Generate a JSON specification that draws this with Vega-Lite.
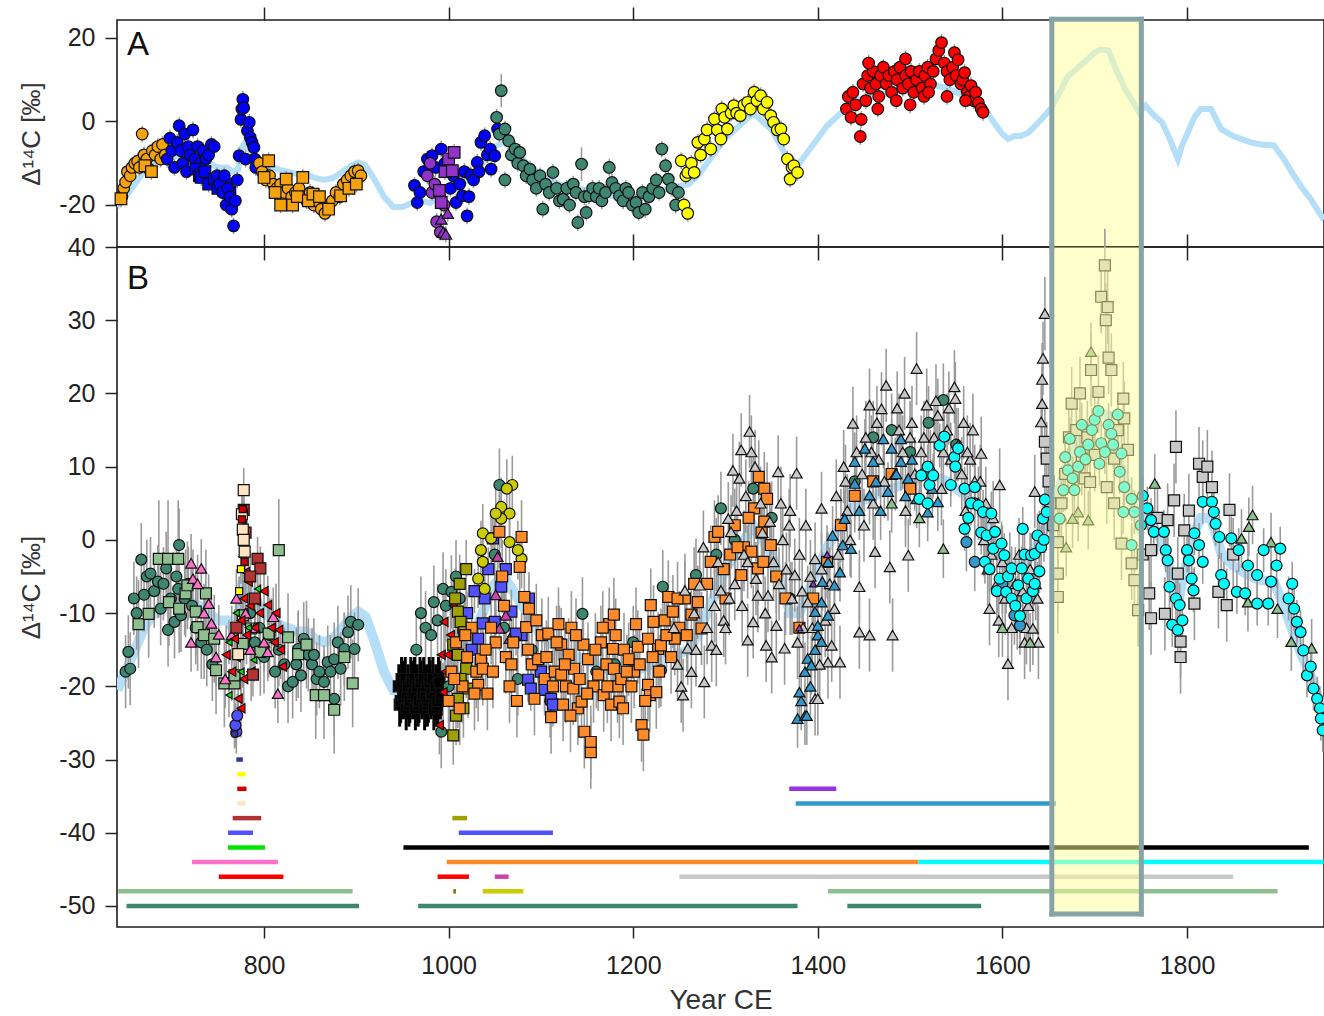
{
"$schema":"https://vega.github.io/schema/vega-lite/v6.json",
"padding":{"left":17,"top":5,"right":0,"bottom":0},
"spacing":0,
"bounds":"flush",
"config":{"view":{"stroke":"#1e1e1e","strokeWidth":1.6},"font":"Liberation Sans","axis":{"labelFont":"Liberation Sans","titleFont":"Liberation Sans","titleFontWeight":"normal","tickColor":"#222","labelColor":"#222","titleColor":"#333","domain":false,"grid":false,"tickWidth":1.5}},
"datasets":{
"ic":[{"x":641,"y":-20.5},{"x":650,"y":-18},{"x":660,"y":-15},{"x":670,"y":-12},{"x":680,"y":-10},{"x":690,"y":-9},{"x":700,"y":-8.5},{"x":710,"y":-8},{"x":720,"y":-8.5},{"x":730,"y":-9},{"x":740,"y":-10},{"x":750,"y":-11},{"x":760,"y":-11},{"x":766,"y":-12},{"x":772,"y":-11.5},{"x":775,"y":-6.5},{"x":778,"y":-5.5},{"x":785,"y":-7},{"x":795,"y":-9},{"x":805,"y":-10.5},{"x":815,"y":-11.5},{"x":825,"y":-12},{"x":835,"y":-12.5},{"x":845,"y":-12.5},{"x":855,"y":-13.5},{"x":865,"y":-14},{"x":875,"y":-13.5},{"x":885,"y":-12},{"x":895,"y":-10.5},{"x":902,"y":-9.8},{"x":910,"y":-10.5},{"x":920,"y":-14},{"x":930,"y":-18},{"x":940,"y":-20.5},{"x":950,"y":-20.5},{"x":960,"y":-19.5},{"x":970,"y":-19},{"x":980,"y":-19.5},{"x":990,"y":-18},{"x":1000,"y":-17},{"x":1010,"y":-16},{"x":1020,"y":-14},{"x":1030,"y":-12},{"x":1040,"y":-9},{"x":1050,"y":-6},{"x":1060,"y":-5},{"x":1070,"y":-7},{"x":1080,"y":-9},{"x":1090,"y":-11},{"x":1100,"y":-13},{"x":1120,"y":-15},{"x":1140,"y":-16},{"x":1160,"y":-17},{"x":1180,"y":-18},{"x":1200,"y":-18},{"x":1220,"y":-17},{"x":1240,"y":-16},{"x":1260,"y":-15},{"x":1270,"y":-13},{"x":1280,"y":-10},{"x":1290,"y":-7},{"x":1300,"y":-4},{"x":1310,"y":-2},{"x":1320,"y":0},{"x":1330,"y":2},{"x":1340,"y":0},{"x":1350,"y":-2},{"x":1360,"y":-6},{"x":1370,"y":-10},{"x":1380,"y":-10},{"x":1390,"y":-7},{"x":1400,"y":-4},{"x":1410,"y":-1},{"x":1420,"y":1},{"x":1430,"y":3},{"x":1440,"y":5},{"x":1460,"y":6},{"x":1480,"y":7},{"x":1500,"y":8},{"x":1520,"y":9},{"x":1540,"y":8},{"x":1560,"y":6},{"x":1580,"y":3.5},{"x":1590,"y":0},{"x":1600,"y":-3},{"x":1606,"y":-4.2},{"x":1613,"y":-3.5},{"x":1620,"y":-3.5},{"x":1628,"y":-2.7},{"x":1640,"y":0},{"x":1653,"y":3.2},{"x":1662,"y":7},{"x":1671,"y":10.9},{"x":1680,"y":12.5},{"x":1690,"y":14.5},{"x":1700,"y":16.5},{"x":1706,"y":17.3},{"x":1715,"y":17},{"x":1722,"y":13},{"x":1733,"y":7.7},{"x":1742,"y":4.5},{"x":1748,"y":2.2},{"x":1755,"y":3.8},{"x":1764,"y":1.5},{"x":1773,"y":-0.2},{"x":1781,"y":-4},{"x":1790,"y":-9},{"x":1795,"y":-5.5},{"x":1801,"y":-2.6},{"x":1808,"y":1},{"x":1815,"y":3},{"x":1826,"y":3},{"x":1837,"y":-1.8},{"x":1850,"y":-3.5},{"x":1869,"y":-5},{"x":1880,"y":-5.5},{"x":1894,"y":-5.7},{"x":1905,"y":-9},{"x":1916,"y":-13},{"x":1925,"y":-16},{"x":1934,"y":-18.6},{"x":1948,"y":-23.5}],
"a":[
{"s":"ao","m":"c","x":646,"y":-18,"e":2},{"s":"ao","m":"c","x":648,"y":-16,"e":2},{"s":"ao","m":"c","x":650,"y":-14.5,"e":2},{"s":"ao","m":"c","x":652,"y":-12,"e":2},{"s":"ao","m":"c","x":655,"y":-13,"e":2},{"s":"ao","m":"c","x":657,"y":-11,"e":2},{"s":"ao","m":"c","x":660,"y":-10,"e":2},{"s":"ao","m":"c","x":663,"y":-9.5,"e":2},{"s":"ao","m":"c","x":665,"y":-11,"e":2},{"s":"ao","m":"c","x":668,"y":-3,"e":2},{"s":"ao","m":"c","x":670,"y":-8,"e":2},{"s":"ao","m":"c","x":673,"y":-9,"e":2},{"s":"ao","m":"c","x":676,"y":-11.5,"e":2},{"s":"ao","m":"c","x":679,"y":-7,"e":2},{"s":"ao","m":"c","x":682,"y":-8,"e":2},{"s":"ao","m":"c","x":685,"y":-6,"e":2},{"s":"ao","m":"c","x":688,"y":-9,"e":2},{"s":"ao","m":"c","x":690,"y":-5.5,"e":2},{"s":"ao","m":"c","x":693,"y":-8,"e":2},
{"s":"ao","m":"s","x":645,"y":-18.5,"e":2},{"s":"ao","m":"s","x":671,"y":-10.6,"e":2},{"s":"ao","m":"s","x":678,"y":-12,"e":2},
{"s":"ab","m":"c","x":695,"y":-9,"e":2},{"s":"ab","m":"c","x":698,"y":-4,"e":2},{"s":"ab","m":"c","x":700,"y":-7,"e":2},{"s":"ab","m":"c","x":703,"y":-11,"e":2},{"s":"ab","m":"c","x":706,"y":-5,"e":2},{"s":"ab","m":"c","x":708,"y":-1,"e":2},{"s":"ab","m":"c","x":710,"y":-7,"e":2},{"s":"ab","m":"c","x":712,"y":-10,"e":2},{"s":"ab","m":"c","x":714,"y":-3,"e":2},{"s":"ab","m":"c","x":716,"y":-12,"e":2},{"s":"ab","m":"c","x":718,"y":-6,"e":2},{"s":"ab","m":"c","x":720,"y":-8,"e":2},{"s":"ab","m":"c","x":723,"y":-2,"e":2},{"s":"ab","m":"c","x":725,"y":-9,"e":2},{"s":"ab","m":"c","x":728,"y":-6,"e":2},{"s":"ab","m":"c","x":731,"y":-10,"e":2},{"s":"ab","m":"c","x":734,"y":-7,"e":2},{"s":"ab","m":"c","x":737,"y":-9,"e":2},{"s":"ab","m":"c","x":740,"y":-8,"e":2},{"s":"ab","m":"c","x":743,"y":-5.5,"e":2},{"s":"ab","m":"c","x":746,"y":-6,"e":2},
{"s":"ab","m":"s","x":726,"y":-11.4,"e":2},{"s":"ab","m":"s","x":730,"y":-13,"e":2},{"s":"ab","m":"s","x":732,"y":-13.4,"e":2},{"s":"ab","m":"s","x":736,"y":-12,"e":2},{"s":"ab","m":"s","x":740,"y":-15,"e":2},{"s":"ab","m":"s","x":746,"y":-13.8,"e":2},{"s":"ab","m":"s","x":750,"y":-16,"e":2},{"s":"ab","m":"s","x":755,"y":-14,"e":2},{"s":"ab","m":"s","x":759,"y":-15,"e":2},{"s":"ab","m":"s","x":763,"y":-17,"e":2},
{"s":"ab","m":"c","x":749,"y":-13,"e":2},{"s":"ab","m":"c","x":752,"y":-15,"e":2},{"s":"ab","m":"c","x":755,"y":-17,"e":2},{"s":"ab","m":"c","x":757,"y":-13,"e":2},{"s":"ab","m":"c","x":759,"y":-20,"e":2},{"s":"ab","m":"c","x":761,"y":-16,"e":2},{"s":"ab","m":"c","x":763,"y":-18,"e":2},{"s":"ab","m":"c","x":765,"y":-21,"e":2},{"s":"ab","m":"c","x":767,"y":-25,"e":2},{"s":"ab","m":"c","x":769,"y":-19,"e":2},{"s":"ab","m":"c","x":771,"y":-14,"e":2},{"s":"ab","m":"c","x":773,"y":-8.2,"e":2},{"s":"ab","m":"c","x":775,"y":0.5,"e":2},{"s":"ab","m":"c","x":776,"y":3,"e":2},{"s":"ab","m":"c","x":777,"y":5.3,"e":2},{"s":"ab","m":"c","x":778,"y":3.3,"e":2},{"s":"ab","m":"c","x":780,"y":-9,"e":2},{"s":"ab","m":"c","x":782,"y":-2.2,"e":2},{"s":"ab","m":"c","x":784,"y":-0.2,"e":2},{"s":"ab","m":"c","x":785,"y":-3.8,"e":2},{"s":"ab","m":"c","x":787,"y":-5,"e":2},{"s":"ab","m":"c","x":789,"y":-6.2,"e":2},{"s":"ab","m":"c","x":790,"y":-9,"e":2},{"s":"ab","m":"c","x":791,"y":-11,"e":2},
{"s":"ao","m":"c","x":795,"y":-10,"e":2},{"s":"ao","m":"c","x":798,"y":-12,"e":2},{"s":"ao","m":"c","x":802,"y":-14,"e":2},{"s":"ao","m":"c","x":806,"y":-13,"e":2},{"s":"ao","m":"c","x":810,"y":-15,"e":2},{"s":"ao","m":"c","x":814,"y":-16,"e":2},{"s":"ao","m":"c","x":818,"y":-15,"e":2},{"s":"ao","m":"c","x":822,"y":-17,"e":2},{"s":"ao","m":"c","x":826,"y":-16,"e":2},{"s":"ao","m":"c","x":830,"y":-18,"e":2},{"s":"ao","m":"c","x":834,"y":-17,"e":2},{"s":"ao","m":"c","x":838,"y":-16,"e":2},{"s":"ao","m":"c","x":842,"y":-18,"e":2},{"s":"ao","m":"c","x":846,"y":-19,"e":2},{"s":"ao","m":"c","x":850,"y":-17,"e":2},{"s":"ao","m":"c","x":854,"y":-20,"e":2},{"s":"ao","m":"c","x":858,"y":-19,"e":2},{"s":"ao","m":"c","x":862,"y":-21,"e":2},{"s":"ao","m":"c","x":866,"y":-22,"e":2},{"s":"ao","m":"c","x":870,"y":-20,"e":2},{"s":"ao","m":"c","x":874,"y":-19,"e":2},{"s":"ao","m":"c","x":878,"y":-17,"e":2},{"s":"ao","m":"c","x":882,"y":-18,"e":2},{"s":"ao","m":"c","x":886,"y":-15,"e":2},{"s":"ao","m":"c","x":890,"y":-14,"e":2},{"s":"ao","m":"c","x":894,"y":-13,"e":2},{"s":"ao","m":"c","x":898,"y":-12,"e":2},{"s":"ao","m":"c","x":902,"y":-11.8,"e":2},{"s":"ao","m":"c","x":905,"y":-13,"e":2},
{"s":"ao","m":"s","x":800,"y":-13.4,"e":2},{"s":"ao","m":"s","x":805,"y":-9.4,"e":2},{"s":"ao","m":"s","x":812,"y":-17,"e":2},{"s":"ao","m":"s","x":818,"y":-20,"e":2},{"s":"ao","m":"s","x":824,"y":-13.8,"e":2},{"s":"ao","m":"s","x":831,"y":-20,"e":2},{"s":"ao","m":"s","x":836,"y":-18,"e":2},{"s":"ao","m":"s","x":842,"y":-13.4,"e":2},{"s":"ao","m":"s","x":848,"y":-19,"e":2},{"s":"ao","m":"s","x":853,"y":-17.4,"e":2},{"s":"ao","m":"s","x":860,"y":-18,"e":2},{"s":"ao","m":"s","x":870,"y":-21,"e":2},{"s":"ao","m":"s","x":883,"y":-17.8,"e":2},{"s":"ao","m":"s","x":892,"y":-16,"e":2},{"s":"ao","m":"s","x":900,"y":-15,"e":2},
{"s":"ab","m":"c","x":963,"y":-15.3,"e":2},{"s":"ab","m":"c","x":966,"y":-19.4,"e":2},{"s":"ab","m":"c","x":969,"y":-17,"e":2},{"s":"ab","m":"c","x":973,"y":-12,"e":2},{"s":"ab","m":"c","x":977,"y":-9,"e":2},{"s":"ab","m":"c","x":982,"y":-8.2,"e":2},{"s":"ab","m":"c","x":986,"y":-11,"e":2},{"s":"ab","m":"c","x":992,"y":-6.6,"e":2},{"s":"ab","m":"c","x":996,"y":-10,"e":2},{"s":"ab","m":"c","x":1002,"y":-16,"e":2},{"s":"ab","m":"c","x":1005,"y":-13,"e":2},{"s":"ab","m":"c","x":1008,"y":-19.4,"e":2},{"s":"ab","m":"c","x":1012,"y":-15,"e":2},{"s":"ab","m":"c","x":1015,"y":-17.8,"e":2},{"s":"ab","m":"c","x":1017,"y":-12,"e":2},{"s":"ab","m":"c","x":1020,"y":-22.6,"e":2},{"s":"ab","m":"c","x":1022,"y":-18,"e":2},{"s":"ab","m":"c","x":1024,"y":-12.8,"e":2},{"s":"ab","m":"c","x":1027,"y":-14,"e":2},{"s":"ab","m":"c","x":1031,"y":-9.8,"e":2},{"s":"ab","m":"c","x":1033,"y":-12,"e":2},{"s":"ab","m":"c","x":1035,"y":-5,"e":2},{"s":"ab","m":"c","x":1039,"y":-3.4,"e":2},{"s":"ab","m":"c","x":1042,"y":-8,"e":2},{"s":"ab","m":"c","x":1045,"y":-6.6,"e":2},{"s":"ab","m":"c","x":1046,"y":-11.4,"e":2},{"s":"ab","m":"c","x":1050,"y":-8.2,"e":2},{"s":"ab","m":"c","x":1053,"y":-1.8,"e":2},
{"s":"ap","m":"c","x":977,"y":-13,"e":2},{"s":"ap","m":"c","x":980,"y":-10,"e":2},{"s":"ap","m":"c","x":982,"y":-17,"e":2},{"s":"ap","m":"c","x":985,"y":-15,"e":2},{"s":"ap","m":"c","x":987,"y":-24,"e":2},{"s":"ap","m":"c","x":991,"y":-26.5,"e":2},{"s":"ap","m":"c","x":995,"y":-20,"e":2},{"s":"ap","m":"s","x":990,"y":-16.5,"e":2},{"s":"ap","m":"s","x":992,"y":-19.4,"e":2},{"s":"ap","m":"s","x":996,"y":-12,"e":2},{"s":"ap","m":"s","x":1000,"y":-9,"e":2},{"s":"ap","m":"s","x":1004,"y":-11.8,"e":2},{"s":"ap","m":"s","x":1006,"y":-7.4,"e":2},{"s":"ap","m":"t","x":992,"y":-23.4,"e":2},{"s":"ap","m":"t","x":994,"y":-26.5,"e":2},{"s":"ap","m":"t","x":997,"y":-27,"e":2},{"s":"ap","m":"t","x":999,"y":-22,"e":2},
{"s":"at","m":"c","x":1052,"y":1,"e":2},{"s":"at","m":"c","x":1057,"y":7.4,"e":4},{"s":"at","m":"c","x":1055,"y":-3,"e":2},{"s":"at","m":"c","x":1061,"y":-1.8,"e":2},{"s":"at","m":"c","x":1061,"y":-14,"e":2},{"s":"at","m":"c","x":1065,"y":-4.6,"e":2},{"s":"at","m":"c","x":1068,"y":-8,"e":2},{"s":"at","m":"c","x":1072,"y":-6.6,"e":2},{"s":"at","m":"c","x":1075,"y":-10,"e":2},{"s":"at","m":"c","x":1077,"y":-7.4,"e":2},{"s":"at","m":"c","x":1081,"y":-10.6,"e":2},{"s":"at","m":"c","x":1084,"y":-13,"e":2},{"s":"at","m":"c","x":1088,"y":-11.4,"e":2},{"s":"at","m":"c","x":1091,"y":-14,"e":2},{"s":"at","m":"c","x":1095,"y":-16,"e":2},{"s":"at","m":"c","x":1099,"y":-13,"e":2},{"s":"at","m":"c","x":1102,"y":-21,"e":2},{"s":"at","m":"c","x":1105,"y":-15,"e":2},{"s":"at","m":"c","x":1109,"y":-17,"e":2},{"s":"at","m":"c","x":1113,"y":-12.2,"e":2},{"s":"at","m":"c","x":1117,"y":-16,"e":2},{"s":"at","m":"c","x":1120,"y":-19,"e":2},{"s":"at","m":"c","x":1124,"y":-18.6,"e":2},{"s":"at","m":"c","x":1128,"y":-16,"e":2},{"s":"at","m":"c","x":1131,"y":-20,"e":2},{"s":"at","m":"c","x":1135,"y":-15,"e":2},{"s":"at","m":"c","x":1138,"y":-17,"e":2},{"s":"at","m":"c","x":1140,"y":-24.2,"e":2},{"s":"at","m":"c","x":1144,"y":-10.2,"e":4},{"s":"at","m":"c","x":1147,"y":-18,"e":2},{"s":"at","m":"c","x":1149,"y":-21.8,"e":2},{"s":"at","m":"c","x":1152,"y":-17.8,"e":2},{"s":"at","m":"c","x":1156,"y":-16,"e":2},{"s":"at","m":"c","x":1160,"y":-18,"e":2},{"s":"at","m":"c","x":1163,"y":-16,"e":2},{"s":"at","m":"c","x":1166,"y":-19,"e":2},{"s":"at","m":"c","x":1170,"y":-17,"e":2},{"s":"at","m":"c","x":1174,"y":-11,"e":2},{"s":"at","m":"c","x":1177,"y":-14.6,"e":2},{"s":"at","m":"c","x":1181,"y":-16,"e":2},{"s":"at","m":"c","x":1185,"y":-17.8,"e":2},{"s":"at","m":"c","x":1189,"y":-19,"e":2},{"s":"at","m":"c","x":1192,"y":-16,"e":2},{"s":"at","m":"c","x":1195,"y":-17,"e":2},{"s":"at","m":"c","x":1199,"y":-20,"e":2},{"s":"at","m":"c","x":1203,"y":-19.4,"e":2},{"s":"at","m":"c","x":1206,"y":-21.8,"e":2},{"s":"at","m":"c","x":1210,"y":-17,"e":2},{"s":"at","m":"c","x":1213,"y":-21,"e":2},{"s":"at","m":"c","x":1217,"y":-18,"e":2},{"s":"at","m":"c","x":1221,"y":-16,"e":2},{"s":"at","m":"c","x":1225,"y":-14,"e":2},{"s":"at","m":"c","x":1228,"y":-17,"e":2},{"s":"at","m":"c","x":1231,"y":-6.6,"e":2},{"s":"at","m":"c","x":1235,"y":-10.6,"e":2},{"s":"at","m":"c","x":1238,"y":-13.8,"e":2},{"s":"at","m":"c","x":1242,"y":-16,"e":2},{"s":"at","m":"c","x":1246,"y":-20,"e":2},{"s":"at","m":"c","x":1249,"y":-17,"e":2},
{"s":"ay","m":"c","x":1252,"y":-9.4,"e":2},{"s":"ay","m":"c","x":1255,"y":-20,"e":2},{"s":"ay","m":"c","x":1257,"y":-13,"e":2},{"s":"ay","m":"c","x":1259,"y":-12.2,"e":2},{"s":"ay","m":"c","x":1259,"y":-22,"e":2},{"s":"ay","m":"c","x":1263,"y":-10,"e":2},{"s":"ay","m":"c","x":1266,"y":-12.2,"e":2},{"s":"ay","m":"c","x":1270,"y":-5,"e":2},{"s":"ay","m":"c","x":1273,"y":-8,"e":2},{"s":"ay","m":"c","x":1277,"y":-4.2,"e":2},{"s":"ay","m":"c","x":1280,"y":-2,"e":2},{"s":"ay","m":"c","x":1284,"y":-6.6,"e":2},{"s":"ay","m":"c","x":1288,"y":0.6,"e":2},{"s":"ay","m":"c","x":1291,"y":-2,"e":2},{"s":"ay","m":"c","x":1295,"y":-4.2,"e":2},{"s":"ay","m":"c","x":1296,"y":3,"e":2},{"s":"ay","m":"c","x":1299,"y":1,"e":2},{"s":"ay","m":"c","x":1302,"y":-1.8,"e":2},{"s":"ay","m":"c","x":1306,"y":2,"e":2},{"s":"ay","m":"c","x":1309,"y":3.8,"e":2},{"s":"ay","m":"c","x":1312,"y":2,"e":2},{"s":"ay","m":"c","x":1316,"y":1.4,"e":2},{"s":"ay","m":"c","x":1320,"y":4,"e":2},{"s":"ay","m":"c","x":1324,"y":4.6,"e":2},{"s":"ay","m":"c","x":1327,"y":3,"e":2},{"s":"ay","m":"c","x":1331,"y":7,"e":2},{"s":"ay","m":"c","x":1334,"y":5,"e":2},{"s":"ay","m":"c","x":1338,"y":6.2,"e":2},{"s":"ay","m":"c","x":1341,"y":3,"e":2},{"s":"ay","m":"c","x":1345,"y":4.6,"e":2},{"s":"ay","m":"c","x":1349,"y":1.4,"e":2},{"s":"ay","m":"c","x":1352,"y":-0.2,"e":2},{"s":"ay","m":"c","x":1356,"y":-2,"e":2},{"s":"ay","m":"c","x":1360,"y":-1.8,"e":2},{"s":"ay","m":"c","x":1363,"y":-4.2,"e":2},{"s":"ay","m":"c","x":1367,"y":-9,"e":2},{"s":"ay","m":"c","x":1370,"y":-13.8,"e":2},{"s":"ay","m":"c","x":1372,"y":-11,"e":2},{"s":"ay","m":"c","x":1374,"y":-10.6,"e":2},{"s":"ay","m":"c","x":1378,"y":-12.2,"e":2},
{"s":"ar","m":"c","x":1431,"y":3,"e":2},{"s":"ar","m":"c","x":1433,"y":6,"e":2},{"s":"ar","m":"c","x":1436,"y":1,"e":2},{"s":"ar","m":"c","x":1438,"y":7,"e":2},{"s":"ar","m":"c","x":1441,"y":4,"e":2},{"s":"ar","m":"c","x":1446,"y":-3.6,"e":2},{"s":"ar","m":"c","x":1447,"y":0.5,"e":2},{"s":"ar","m":"c","x":1449,"y":9,"e":2},{"s":"ar","m":"c","x":1452,"y":5,"e":2},{"s":"ar","m":"c","x":1454,"y":11,"e":2},{"s":"ar","m":"c","x":1457,"y":8,"e":2},{"s":"ar","m":"c","x":1460,"y":12,"e":2},{"s":"ar","m":"c","x":1463,"y":9,"e":2},{"s":"ar","m":"c","x":1466,"y":6,"e":2},{"s":"ar","m":"c","x":1468,"y":11,"e":2},{"s":"ar","m":"c","x":1471,"y":13,"e":2},{"s":"ar","m":"c","x":1474,"y":9,"e":2},{"s":"ar","m":"c","x":1477,"y":11,"e":2},{"s":"ar","m":"c","x":1480,"y":7,"e":2},{"s":"ar","m":"c","x":1483,"y":12,"e":2},{"s":"ar","m":"c","x":1486,"y":10,"e":2},{"s":"ar","m":"c","x":1489,"y":13,"e":2},{"s":"ar","m":"c","x":1492,"y":8,"e":2},{"s":"ar","m":"c","x":1495,"y":11,"e":2},{"s":"ar","m":"c","x":1498,"y":9,"e":2},{"s":"ar","m":"c","x":1501,"y":12,"e":2},{"s":"ar","m":"c","x":1504,"y":7,"e":2},{"s":"ar","m":"c","x":1507,"y":10,"e":2},{"s":"ar","m":"c","x":1510,"y":12,"e":2},{"s":"ar","m":"c","x":1513,"y":8,"e":2},{"s":"ar","m":"c","x":1516,"y":11,"e":2},{"s":"ar","m":"c","x":1519,"y":13,"e":2},{"s":"ar","m":"c","x":1522,"y":9,"e":2},{"s":"ar","m":"c","x":1525,"y":12,"e":2},{"s":"ar","m":"c","x":1528,"y":15,"e":2},{"s":"ar","m":"c","x":1531,"y":17,"e":2},{"s":"ar","m":"c","x":1534,"y":18.9,"e":2},{"s":"ar","m":"c","x":1537,"y":14,"e":2},{"s":"ar","m":"c","x":1540,"y":12,"e":2},{"s":"ar","m":"c","x":1543,"y":10,"e":2},{"s":"ar","m":"c","x":1546,"y":13,"e":2},{"s":"ar","m":"c","x":1548,"y":16.5,"e":2},{"s":"ar","m":"c","x":1550,"y":11,"e":2},{"s":"ar","m":"c","x":1552,"y":14.8,"e":2},{"s":"ar","m":"c","x":1555,"y":9,"e":2},{"s":"ar","m":"c","x":1557,"y":10,"e":2},{"s":"ar","m":"c","x":1559,"y":11.7,"e":2},{"s":"ar","m":"c","x":1562,"y":7,"e":2},{"s":"ar","m":"c","x":1564,"y":6,"e":2},{"s":"ar","m":"c","x":1566,"y":8.6,"e":2},{"s":"ar","m":"c","x":1569,"y":5,"e":2},{"s":"ar","m":"c","x":1571,"y":7,"e":2},{"s":"ar","m":"c","x":1574,"y":4.5,"e":2},{"s":"ar","m":"c","x":1577,"y":3,"e":2},{"s":"ar","m":"c","x":1579,"y":2.2,"e":2},{"s":"ar","m":"c","x":1465,"y":3,"e":2},{"s":"ar","m":"c","x":1485,"y":5,"e":2},{"s":"ar","m":"c","x":1500,"y":4,"e":2},{"s":"ar","m":"c","x":1515,"y":6,"e":2},{"s":"ar","m":"c","x":1540,"y":6,"e":2},{"s":"ar","m":"c","x":1560,"y":5,"e":2},{"s":"ar","m":"c","x":1455,"y":14,"e":2},{"s":"ar","m":"c","x":1495,"y":15,"e":2},{"s":"ar","m":"c","x":1520,"y":7,"e":2}
],
"b":[
{"s":"bk","m":"s","x":946,"y":-20,"e":3},{"s":"bk","m":"s","x":947,"y":-22.5,"e":3},{"s":"bk","m":"s","x":948,"y":-22,"e":3},{"s":"bk","m":"s","x":949,"y":-19,"e":3},{"s":"bk","m":"s","x":950,"y":-19.5,"e":3},{"s":"bk","m":"s","x":951,"y":-21.5,"e":3},{"s":"bk","m":"s","x":952,"y":-21,"e":3},{"s":"bk","m":"s","x":953,"y":-19,"e":3},{"s":"bk","m":"s","x":954,"y":-23,"e":3},{"s":"bk","m":"s","x":955,"y":-21.5,"e":3},{"s":"bk","m":"s","x":956,"y":-20,"e":3},{"s":"bk","m":"s","x":957,"y":-22.5,"e":3},{"s":"bk","m":"s","x":958,"y":-22,"e":3},{"s":"bk","m":"s","x":959,"y":-19,"e":3},{"s":"bk","m":"s","x":960,"y":-19.5,"e":3},{"s":"bk","m":"s","x":961,"y":-21.5,"e":3},{"s":"bk","m":"s","x":962,"y":-21,"e":3},{"s":"bk","m":"s","x":963,"y":-19,"e":3},{"s":"bk","m":"s","x":964,"y":-23,"e":3},{"s":"bk","m":"s","x":965,"y":-21.5,"e":3},{"s":"bk","m":"s","x":966,"y":-20,"e":3},{"s":"bk","m":"s","x":967,"y":-22.5,"e":3},{"s":"bk","m":"s","x":968,"y":-22,"e":3},{"s":"bk","m":"s","x":969,"y":-19,"e":3},{"s":"bk","m":"s","x":970,"y":-19.5,"e":3},{"s":"bk","m":"s","x":971,"y":-21.5,"e":3},{"s":"bk","m":"s","x":972,"y":-21,"e":3},{"s":"bk","m":"s","x":973,"y":-19,"e":3},{"s":"bk","m":"s","x":974,"y":-23,"e":3},{"s":"bk","m":"s","x":975,"y":-21.5,"e":3},{"s":"bk","m":"s","x":976,"y":-20,"e":3},{"s":"bk","m":"s","x":977,"y":-22.5,"e":3},{"s":"bk","m":"s","x":978,"y":-22,"e":3},{"s":"bk","m":"s","x":979,"y":-19,"e":3},{"s":"bk","m":"s","x":980,"y":-19.5,"e":3},{"s":"bk","m":"s","x":981,"y":-21.5,"e":3},{"s":"bk","m":"s","x":982,"y":-21,"e":3},{"s":"bk","m":"s","x":983,"y":-19,"e":3},{"s":"bk","m":"s","x":984,"y":-23,"e":3},{"s":"bk","m":"s","x":985,"y":-21.5,"e":3},{"s":"bk","m":"s","x":986,"y":-20,"e":3},{"s":"bk","m":"s","x":987,"y":-22.5,"e":3},{"s":"bk","m":"s","x":988,"y":-22,"e":3},{"s":"bk","m":"s","x":989,"y":-19,"e":3},{"s":"bk","m":"s","x":990,"y":-19.5,"e":3},{"s":"bk","m":"s","x":991,"y":-21.5,"e":3},{"s":"bk","m":"s","x":992,"y":-21,"e":3},
{"s":"tl","m":"c","x":650,"y":-18,"e":5},{"s":"tl","m":"c","x":653,"y":-15.3,"e":5},{"s":"tl","m":"c","x":655,"y":-17.6,"e":5},{"s":"tl","m":"c","x":659,"y":-8,"e":5},{"s":"tl","m":"c","x":662,"y":-10,"e":5},{"s":"tl","m":"c","x":667,"y":-2.7,"e":5},{"s":"tl","m":"c","x":670,"y":-7.5,"e":5},{"s":"tl","m":"c","x":673,"y":-5,"e":5},{"s":"tl","m":"c","x":677,"y":-4.6,"e":5},{"s":"tl","m":"c","x":681,"y":-7,"e":5},{"s":"tl","m":"c","x":685,"y":-5.7,"e":5},{"s":"tl","m":"c","x":688,"y":-9.4,"e":5},{"s":"tl","m":"c","x":691,"y":-6,"e":5},{"s":"tl","m":"c","x":694,"y":-3.9,"e":5},{"s":"tl","m":"c","x":696,"y":-12.3,"e":5},{"s":"tl","m":"c","x":699,"y":-8,"e":5},{"s":"tl","m":"c","x":703,"y":-11.2,"e":5},{"s":"tl","m":"c","x":705,"y":-5,"e":5},{"s":"tl","m":"c","x":708,"y":-0.7,"e":5},{"s":"tl","m":"c","x":707,"y":-6.7,"e":5},{"s":"tl","m":"c","x":710,"y":-10.3,"e":5},{"s":"tl","m":"c","x":714,"y":-8,"e":5},{"s":"tl","m":"c","x":718,"y":-6,"e":5},{"s":"tl","m":"c","x":722,"y":-9,"e":5},{"s":"tl","m":"c","x":726,"y":-12,"e":5},{"s":"tl","m":"c","x":732,"y":-14,"e":5},{"s":"tl","m":"c","x":738,"y":-15,"e":5},{"s":"tl","m":"c","x":744,"y":-17,"e":5},{"s":"tl","m":"c","x":785,"y":-10,"e":5},{"s":"tl","m":"c","x":790,"y":-14,"e":5},{"s":"tl","m":"c","x":795,"y":-12,"e":5},{"s":"tl","m":"c","x":800,"y":-16,"e":5},{"s":"tl","m":"c","x":806,"y":-13,"e":5},{"s":"tl","m":"c","x":812,"y":-18,"e":5},{"s":"tl","m":"c","x":816,"y":-15,"e":5},{"s":"tl","m":"c","x":822,"y":-17,"e":5},{"s":"tl","m":"c","x":826,"y":-20,"e":5},{"s":"tl","m":"c","x":831,"y":-19.4,"e":5},{"s":"tl","m":"c","x":835,"y":-17,"e":5},{"s":"tl","m":"c","x":837,"y":-14.9,"e":5},{"s":"tl","m":"c","x":840,"y":-18.5,"e":5},{"s":"tl","m":"c","x":843,"y":-13.5,"e":5},{"s":"tl","m":"c","x":848,"y":-15.7,"e":5},{"s":"tl","m":"c","x":852,"y":-17,"e":5},{"s":"tl","m":"c","x":854,"y":-15.7,"e":5},{"s":"tl","m":"c","x":857,"y":-19,"e":5},{"s":"tl","m":"c","x":860,"y":-18,"e":5},{"s":"tl","m":"c","x":865,"y":-19.4,"e":5},{"s":"tl","m":"c","x":869,"y":-16.7,"e":5},{"s":"tl","m":"c","x":872,"y":-18,"e":5},{"s":"tl","m":"c","x":876,"y":-16.3,"e":5},{"s":"tl","m":"c","x":876,"y":-21.7,"e":5},{"s":"tl","m":"c","x":880,"y":-14,"e":5},{"s":"tl","m":"c","x":883,"y":-17.6,"e":5},{"s":"tl","m":"c","x":887,"y":-14.9,"e":5},{"s":"tl","m":"c","x":891,"y":-12.6,"e":5},{"s":"tl","m":"c","x":894,"y":-11.2,"e":5},{"s":"tl","m":"c","x":898,"y":-14.9,"e":5},{"s":"tl","m":"c","x":902,"y":-11.6,"e":5},{"s":"tl","m":"c","x":965,"y":-15,"e":5},{"s":"tl","m":"c","x":970,"y":-10,"e":5},{"s":"tl","m":"c","x":975,"y":-12,"e":5},{"s":"tl","m":"c","x":981,"y":-13,"e":5},{"s":"tl","m":"c","x":984,"y":-8.5,"e":5},{"s":"tl","m":"c","x":988,"y":-11,"e":5},{"s":"tl","m":"c","x":994,"y":-6.7,"e":5},{"s":"tl","m":"c","x":997,"y":-9,"e":5},{"s":"tl","m":"c","x":1003,"y":-7.1,"e":5},{"s":"tl","m":"c","x":992,"y":-26.2,"e":5},{"s":"tl","m":"c","x":1000,"y":-20,"e":5},{"s":"tl","m":"c","x":1008,"y":-5,"e":5},{"s":"tl","m":"c","x":1012,"y":-8,"e":5},{"s":"tl","m":"c","x":1050,"y":-2,"e":5},{"s":"tl","m":"c","x":1055,"y":7.5,"e":5},{"s":"tl","m":"c","x":1060,"y":-12,"e":5},{"s":"tl","m":"c","x":1075,"y":-19,"e":5},{"s":"tl","m":"c","x":1090,"y":-15,"e":5},{"s":"tl","m":"c","x":1110,"y":-22,"e":5},{"s":"tl","m":"c","x":1120,"y":-14,"e":5},{"s":"tl","m":"c","x":1145,"y":-10.1,"e":5},{"s":"tl","m":"c","x":1160,"y":-18,"e":5},{"s":"tl","m":"c","x":1180,"y":-17,"e":5},{"s":"tl","m":"c","x":1200,"y":-14,"e":5},{"s":"tl","m":"c","x":1230,"y":-17.8,"e":5},{"s":"tl","m":"c","x":1232,"y":-6.4,"e":5},{"s":"tl","m":"c","x":1268,"y":-4.8,"e":5},{"s":"tl","m":"c","x":1290,"y":-2,"e":5},{"s":"tl","m":"c","x":1295,"y":4.3,"e":5},{"s":"tl","m":"c","x":1310,"y":0,"e":5},{"s":"tl","m":"c","x":1330,"y":7,"e":5},{"s":"tl","m":"c","x":1350,"y":3,"e":5},{"s":"tl","m":"c","x":1370,"y":-8,"e":5},{"s":"tl","m":"c","x":1440,"y":8,"e":5},{"s":"tl","m":"c","x":1460,"y":14,"e":5},{"s":"tl","m":"c","x":1480,"y":15,"e":5},{"s":"tl","m":"c","x":1500,"y":12,"e":5},{"s":"tl","m":"c","x":1520,"y":16,"e":5},{"s":"tl","m":"c","x":1536,"y":19.1,"e":5},{"s":"tl","m":"c","x":1550,"y":13,"e":5},{"s":"tl","m":"c","x":1570,"y":5,"e":5},
{"s":"lg","m":"s","x":664,"y":-11.5,"e":6},{"s":"lg","m":"s","x":675,"y":-10.1,"e":6},{"s":"lg","m":"s","x":686,"y":-2.6,"e":8},{"s":"lg","m":"s","x":696,"y":-2.6,"e":8},{"s":"lg","m":"s","x":697,"y":-8.5,"e":6},{"s":"lg","m":"s","x":707,"y":-2.6,"e":8},{"s":"lg","m":"s","x":708,"y":-9.4,"e":6},{"s":"lg","m":"s","x":715,"y":-7.3,"e":6},{"s":"lg","m":"s","x":717,"y":-6.2,"e":6},{"s":"lg","m":"s","x":726,"y":-9.8,"e":6},{"s":"lg","m":"s","x":728,"y":-11.9,"e":6},{"s":"lg","m":"s","x":735,"y":-13,"e":6},{"s":"lg","m":"s","x":737,"y":-7.3,"e":6},{"s":"lg","m":"s","x":746,"y":-13.5,"e":6},{"s":"lg","m":"s","x":748,"y":-17.8,"e":6},{"s":"lg","m":"s","x":757,"y":-19.6,"e":6},{"s":"lg","m":"s","x":768,"y":-19.6,"e":6},{"s":"lg","m":"s","x":768,"y":-18.5,"e":6},{"s":"lg","m":"s","x":777,"y":-10.3,"e":6},{"s":"lg","m":"s","x":777,"y":-14.2,"e":6},{"s":"lg","m":"s","x":786,"y":-12.1,"e":6},{"s":"lg","m":"s","x":796,"y":-15.3,"e":6},{"s":"lg","m":"s","x":805,"y":-12.8,"e":6},{"s":"lg","m":"s","x":816,"y":-1.4,"e":7},{"s":"lg","m":"s","x":826,"y":-13.3,"e":6},{"s":"lg","m":"s","x":837,"y":-15.6,"e":6},{"s":"lg","m":"s","x":846,"y":-14.3,"e":6},{"s":"lg","m":"s","x":856,"y":-21.2,"e":6},{"s":"lg","m":"s","x":865,"y":-21.2,"e":6},{"s":"lg","m":"s","x":876,"y":-23.2,"e":6},{"s":"lg","m":"s","x":887,"y":-16,"e":6},{"s":"lg","m":"s","x":896,"y":-19.6,"e":6},
{"s":"pk","m":"t","x":721,"y":-3.2,"e":4},{"s":"pk","m":"t","x":723,"y":-5.3,"e":4},{"s":"pk","m":"t","x":728,"y":-6,"e":4},{"s":"pk","m":"t","x":732,"y":-3.9,"e":4},{"s":"pk","m":"t","x":735,"y":-10,"e":4},{"s":"pk","m":"t","x":740,"y":-8.7,"e":4},{"s":"pk","m":"t","x":721,"y":-14,"e":4},{"s":"pk","m":"t","x":743,"y":-11.4,"e":4},{"s":"pk","m":"t","x":748,"y":-16,"e":4},{"s":"pk","m":"t","x":751,"y":-12.9,"e":4},{"s":"pk","m":"t","x":758,"y":-19,"e":4},{"s":"pk","m":"t","x":765,"y":-13,"e":4},{"s":"pk","m":"t","x":770,"y":-8,"e":4},{"s":"pk","m":"t","x":780,"y":-10,"e":4},{"s":"pk","m":"t","x":785,"y":-15,"e":4},{"s":"pk","m":"t","x":790,"y":-12,"e":4},{"s":"pk","m":"t","x":800,"y":-14,"e":4},{"s":"pk","m":"t","x":804,"y":-15.3,"e":4},{"s":"pk","m":"t","x":810,"y":-10.5,"e":4},{"s":"pk","m":"t","x":815,"y":-21,"e":4},
{"s":"rd","m":"l","x":777,"y":-2.3,"e":4},{"s":"rd","m":"l","x":780,"y":-4.4,"e":4},{"s":"rd","m":"l","x":783,"y":-5.7,"e":4},{"s":"rd","m":"l","x":778,"y":-8,"e":4},{"s":"rd","m":"l","x":775,"y":-11,"e":4},{"s":"rd","m":"l","x":781,"y":-13,"e":4},{"s":"rd","m":"l","x":768,"y":-13.5,"e":4},{"s":"rd","m":"l","x":759,"y":-15.7,"e":4},{"s":"rd","m":"l","x":772,"y":-21.7,"e":4},{"s":"rd","m":"l","x":775,"y":-23,"e":4},{"s":"rd","m":"l","x":765,"y":-18,"e":4},{"s":"rd","m":"l","x":770,"y":-16,"e":4},{"s":"rd","m":"l","x":785,"y":-9,"e":4},{"s":"rd","m":"l","x":790,"y":-12,"e":4},{"s":"rd","m":"l","x":795,"y":-10,"e":4},{"s":"rd","m":"l","x":800,"y":-7,"e":4},{"s":"rd","m":"l","x":804,"y":-8.9,"e":4},{"s":"rd","m":"l","x":808,"y":-12,"e":4},{"s":"rd","m":"l","x":811,"y":-14,"e":4},{"s":"rd","m":"l","x":816,"y":-12.3,"e":4},{"s":"rd","m":"l","x":818,"y":-15,"e":4},{"s":"rd","m":"l","x":820,"y":-17.3,"e":4},{"s":"rd","m":"l","x":813,"y":-10,"e":4},{"s":"rd","m":"l","x":786,"y":-18,"e":4},{"s":"rd","m":"l","x":778,"y":-19,"e":4},{"s":"rd","m":"l","x":995,"y":-11.2,"e":4},{"s":"rd","m":"l","x":992,"y":-15.7,"e":4},{"s":"rd","m":"l","x":994,"y":-20.8,"e":4},{"s":"rd","m":"l","x":990,"y":-25.3,"e":4},{"s":"rd","m":"l","x":999,"y":-15.7,"e":4},{"s":"rd","m":"l","x":996,"y":-18,"e":4},{"s":"rd","m":"l","x":1002,"y":-13,"e":4},{"s":"rd","m":"l","x":1005,"y":-9,"e":4},{"s":"rd","m":"l","x":1001,"y":-22,"e":4},
{"s":"gr","m":"l","x":793,"y":-6.7,"e":3},{"s":"gr","m":"l","x":793,"y":-8.5,"e":3},{"s":"gr","m":"l","x":762,"y":-14,"e":3},{"s":"gr","m":"l","x":762,"y":-21.2,"e":3},{"s":"gr","m":"l","x":789,"y":-16.4,"e":3},{"s":"gr","m":"l","x":778,"y":2.5,"e":3},{"s":"gr","m":"l","x":770,"y":-10,"e":3},{"s":"gr","m":"l","x":783,"y":-12,"e":3},{"s":"gr","m":"l","x":775,"y":-18,"e":3},
{"s":"bl","m":"c","x":770,"y":-26.2,"e":3},{"s":"bl","m":"c","x":769,"y":-25.3,"e":3},{"s":"bl","m":"c","x":771,"y":-24,"e":3},
{"s":"bl","m":"s","x":1048,"y":0.2,"e":3},{"s":"bl","m":"s","x":1039,"y":-8,"e":3},{"s":"bl","m":"s","x":1032,"y":-13.5,"e":3},{"s":"bl","m":"s","x":1037,"y":-11.4,"e":3},{"s":"bl","m":"s","x":1057,"y":-6.4,"e":3},{"s":"bl","m":"s","x":1068,"y":-9.8,"e":3},{"s":"bl","m":"s","x":1079,"y":-13,"e":3},{"s":"bl","m":"s","x":1073,"y":-12.8,"e":3},{"s":"bl","m":"s","x":1086,"y":-19.1,"e":3},{"s":"bl","m":"s","x":1089,"y":-20.3,"e":3},{"s":"bl","m":"s","x":1100,"y":-18,"e":3},{"s":"bl","m":"s","x":1104,"y":-20.5,"e":3},{"s":"bl","m":"s","x":1111,"y":-21.7,"e":3},{"s":"bl","m":"s","x":1113,"y":-22.5,"e":3},{"s":"bl","m":"s","x":1087,"y":-8,"e":3},{"s":"bl","m":"s","x":1097,"y":-16.3,"e":3},{"s":"bl","m":"s","x":1050,"y":-11.2,"e":3},{"s":"bl","m":"s","x":1020,"y":-10,"e":3},{"s":"bl","m":"s","x":1025,"y":-15,"e":3},{"s":"bl","m":"s","x":1043,"y":-4,"e":3},{"s":"bl","m":"s","x":1062,"y":-4,"e":3},{"s":"bl","m":"s","x":1028,"y":-7,"e":3},{"s":"bl","m":"s","x":1016,"y":-12,"e":3},
{"s":"br","m":"s","x":778,"y":4.1,"e":3},{"s":"br","m":"s","x":793,"y":-2.6,"e":3},{"s":"br","m":"s","x":796,"y":-3.9,"e":3},{"s":"br","m":"s","x":788,"y":-18.4,"e":3},{"s":"br","m":"s","x":785,"y":-5,"e":3},{"s":"br","m":"s","x":790,"y":-8,"e":3},{"s":"br","m":"s","x":780,"y":1,"e":3},{"s":"br","m":"s","x":770,"y":-12,"e":3},
{"s":"pe","m":"s","x":778,"y":6.8,"e":3},{"s":"pe","m":"s","x":777,"y":1.4,"e":3},{"s":"pe","m":"s","x":778,"y":0,"e":3},{"s":"pe","m":"s","x":779,"y":-1.6,"e":3},{"s":"pe","m":"s","x":772,"y":-15.6,"e":3},{"s":"pe","m":"s","x":776,"y":3.5,"e":3},
{"s":"dr","m":"s","x":777,"y":4.2,"e":2},{"s":"dr","m":"s","x":776,"y":2.8,"e":2},{"s":"dr","m":"s","x":779,"y":-3,"e":2},
{"s":"ye","m":"s","x":775,"y":-4,"e":2},{"s":"ye","m":"s","x":773,"y":-7,"e":2},
{"s":"nv","m":"c","x":768,"y":-26.5,"e":2},
{"s":"ol","m":"s","x":1010,"y":-9.8,"e":4},{"s":"ol","m":"s","x":1013,"y":-11.2,"e":4},{"s":"ol","m":"s","x":1017,"y":-12.6,"e":4},{"s":"ol","m":"s","x":1005,"y":-14.3,"e":4},{"s":"ol","m":"s","x":1010,"y":-15.7,"e":4},{"s":"ol","m":"s","x":1019,"y":-17.6,"e":4},{"s":"ol","m":"s","x":1013,"y":-19,"e":4},{"s":"ol","m":"s","x":1021,"y":-20.3,"e":4},{"s":"ol","m":"s","x":1010,"y":-21.7,"e":4},{"s":"ol","m":"s","x":1005,"y":-26.7,"e":4},{"s":"ol","m":"s","x":1008,"y":-24,"e":4},{"s":"ol","m":"s","x":1016,"y":-23,"e":4},{"s":"ol","m":"s","x":1007,"y":-8,"e":4},{"s":"ol","m":"s","x":1012,"y":-6,"e":4},{"s":"ol","m":"s","x":1019,"y":-4,"e":4},
{"s":"yo","m":"c","x":1069,"y":7.5,"e":4},{"s":"yo","m":"c","x":1057,"y":4.5,"e":4},{"s":"yo","m":"c","x":1066,"y":3.6,"e":4},{"s":"yo","m":"c","x":1057,"y":2.9,"e":4},{"s":"yo","m":"c","x":1037,"y":0.9,"e":4},{"s":"yo","m":"c","x":1066,"y":-0.3,"e":4},{"s":"yo","m":"c","x":1035,"y":-1.4,"e":4},{"s":"yo","m":"c","x":1037,"y":-3,"e":4},{"s":"yo","m":"c","x":1032,"y":-5.3,"e":4},{"s":"yo","m":"c","x":1039,"y":-6.7,"e":4},{"s":"yo","m":"c","x":1079,"y":-2.6,"e":4},{"s":"yo","m":"c","x":1075,"y":-1.4,"e":4},{"s":"yo","m":"c","x":1051,"y":3.6,"e":4},{"s":"yo","m":"c","x":1046,"y":0.2,"e":4},{"s":"yo","m":"c","x":1063,"y":7,"e":4},
{"s":"mg","m":"t","x":1053,"y":-2.3,"e":3},{"s":"mg","m":"t","x":1051,"y":-7.5,"e":3},{"s":"mg","m":"t","x":1060,"y":-8.9,"e":3},{"s":"mg","m":"t","x":1062,"y":-10.3,"e":3},{"s":"mg","m":"t","x":1055,"y":-12.1,"e":3},{"s":"mg","m":"t","x":1066,"y":-13.5,"e":3},
{"s":"or","m":"s","x":1000,"y":-22,"e":5},{"s":"or","m":"s","x":1003,"y":-18,"e":5},{"s":"or","m":"s","x":1008,"y":-14,"e":5},{"s":"or","m":"s","x":1015,"y":-20,"e":5},{"s":"or","m":"s","x":1020,"y":-16,"e":5},{"s":"or","m":"s","x":1025,"y":-12,"e":5},{"s":"or","m":"s","x":1030,"y":-18,"e":5},{"s":"or","m":"s","x":1032,"y":-19.8,"e":5},{"s":"or","m":"s","x":1035,"y":-16.3,"e":5},{"s":"or","m":"s","x":1037,"y":-17.6,"e":5},{"s":"or","m":"s","x":1042,"y":-21,"e":5},{"s":"or","m":"s","x":1046,"y":-12,"e":5},{"s":"or","m":"s","x":1051,"y":-14,"e":5},{"s":"or","m":"s","x":1055,"y":1.1,"e":5},{"s":"or","m":"s","x":1058,"y":-5,"e":5},{"s":"or","m":"s","x":1062,"y":-16,"e":5},{"s":"or","m":"s","x":1066,"y":-20,"e":5},{"s":"or","m":"s","x":1070,"y":-14,"e":5},{"s":"or","m":"s","x":1077,"y":-3.7,"e":5},{"s":"or","m":"s","x":1079,"y":0.4,"e":5},{"s":"or","m":"s","x":1082,"y":-7.8,"e":5},{"s":"or","m":"s","x":1084,"y":-11.9,"e":5},{"s":"or","m":"s","x":1087,"y":-9.4,"e":5},{"s":"or","m":"s","x":1090,"y":-17,"e":5},{"s":"or","m":"s","x":1093,"y":-21.7,"e":5},{"s":"or","m":"s","x":1097,"y":-16.3,"e":5},{"s":"or","m":"s","x":1101,"y":-13,"e":5},{"s":"or","m":"s","x":1104,"y":-19,"e":5},{"s":"or","m":"s","x":1108,"y":-12.8,"e":5},{"s":"or","m":"s","x":1111,"y":-24.2,"e":5},{"s":"or","m":"s","x":1115,"y":-18,"e":5},{"s":"or","m":"s","x":1119,"y":-11.5,"e":5},{"s":"or","m":"s","x":1122,"y":-14.3,"e":5},{"s":"or","m":"s","x":1122,"y":-18.4,"e":5},{"s":"or","m":"s","x":1124,"y":-22.5,"e":5},{"s":"or","m":"s","x":1127,"y":-20,"e":5},{"s":"or","m":"s","x":1130,"y":-15.7,"e":5},{"s":"or","m":"s","x":1133,"y":-12,"e":5},{"s":"or","m":"s","x":1135,"y":-20.3,"e":5},{"s":"or","m":"s","x":1136,"y":-17.6,"e":5},{"s":"or","m":"s","x":1140,"y":-23,"e":5},{"s":"or","m":"s","x":1144,"y":-22.1,"e":5},{"s":"or","m":"s","x":1146,"y":-14.3,"e":5},{"s":"or","m":"s","x":1147,"y":-26.2,"e":5},{"s":"or","m":"s","x":1151,"y":-16.3,"e":5},{"s":"or","m":"s","x":1154,"y":-29,"e":5},{"s":"or","m":"s","x":1154,"y":-27.6,"e":5},{"s":"or","m":"s","x":1157,"y":-20,"e":5},{"s":"or","m":"s","x":1162,"y":-18.4,"e":5},{"s":"or","m":"s","x":1165,"y":-14,"e":5},{"s":"or","m":"s","x":1168,"y":-21.2,"e":5},{"s":"or","m":"s","x":1171,"y":-17,"e":5},{"s":"or","m":"s","x":1174,"y":-11.5,"e":5},{"s":"or","m":"s","x":1176,"y":-22.5,"e":5},{"s":"or","m":"s","x":1178,"y":-14.9,"e":5},{"s":"or","m":"s","x":1179,"y":-17.6,"e":5},{"s":"or","m":"s","x":1179,"y":-10.2,"e":5},{"s":"or","m":"s","x":1183,"y":-20,"e":5},{"s":"or","m":"s","x":1185,"y":-22.1,"e":5},{"s":"or","m":"s","x":1187,"y":-19,"e":5},{"s":"or","m":"s","x":1190,"y":-15,"e":5},{"s":"or","m":"s","x":1195,"y":-16.3,"e":5},{"s":"or","m":"s","x":1198,"y":-20,"e":5},{"s":"or","m":"s","x":1201,"y":-18,"e":5},{"s":"or","m":"s","x":1203,"y":-11.5,"e":5},{"s":"or","m":"s","x":1205,"y":-14.6,"e":5},{"s":"or","m":"s","x":1209,"y":-25.3,"e":5},{"s":"or","m":"s","x":1211,"y":-26.6,"e":5},{"s":"or","m":"s","x":1216,"y":-19.8,"e":5},{"s":"or","m":"s","x":1216,"y":-13.5,"e":5},{"s":"or","m":"s","x":1218,"y":-21.2,"e":5},{"s":"or","m":"s","x":1219,"y":-8.9,"e":5},{"s":"or","m":"s","x":1222,"y":-11.2,"e":5},{"s":"or","m":"s","x":1225,"y":-20.8,"e":5},{"s":"or","m":"s","x":1227,"y":-14.9,"e":5},{"s":"or","m":"s","x":1230,"y":-14.4,"e":5},{"s":"or","m":"s","x":1234,"y":-11,"e":5},{"s":"or","m":"s","x":1238,"y":-7.8,"e":5},{"s":"or","m":"s","x":1243,"y":-9.8,"e":5},{"s":"or","m":"s","x":1245,"y":-13.5,"e":5},{"s":"or","m":"s","x":1250,"y":-12,"e":5},{"s":"or","m":"s","x":1256,"y":-8,"e":5},{"s":"or","m":"s","x":1263,"y":-10.2,"e":5},{"s":"or","m":"s","x":1270,"y":-8.5,"e":5},{"s":"or","m":"s","x":1274,"y":-12.1,"e":5},{"s":"or","m":"s","x":1280,"y":-6,"e":5},{"s":"or","m":"s","x":1288,"y":0.4,"e":5},{"s":"or","m":"s","x":1292,"y":1.1,"e":5},{"s":"or","m":"s","x":1298,"y":-4,"e":5},{"s":"or","m":"s","x":1305,"y":-2,"e":5},{"s":"or","m":"s","x":1310,"y":2,"e":5},{"s":"or","m":"s","x":1317,"y":-4.8,"e":5},{"s":"or","m":"s","x":1320,"y":-1,"e":5},{"s":"or","m":"s","x":1328,"y":-1.6,"e":5},{"s":"or","m":"s","x":1331,"y":4.3,"e":5},{"s":"or","m":"s","x":1335,"y":-3.9,"e":5},{"s":"or","m":"s","x":1336,"y":8.6,"e":5},{"s":"or","m":"s","x":1342,"y":7,"e":5},{"s":"or","m":"s","x":1342,"y":2.5,"e":5},{"s":"or","m":"s","x":1345,"y":5.6,"e":5},{"s":"or","m":"s","x":1349,"y":-0.7,"e":5},{"s":"or","m":"s","x":1341,"y":-3,"e":5},{"s":"or","m":"s","x":1355,"y":-5,"e":5},{"s":"or","m":"s","x":1365,"y":-8,"e":5},{"s":"or","m":"s","x":1380,"y":-12,"e":5},{"s":"or","m":"s","x":1395,"y":-8,"e":5},{"s":"or","m":"s","x":1410,"y":-3,"e":5},{"s":"or","m":"s","x":1425,"y":2,"e":5},{"s":"or","m":"s","x":1440,"y":6,"e":5},{"s":"or","m":"s","x":1460,"y":8,"e":5},{"s":"or","m":"s","x":1480,"y":9,"e":5},{"s":"or","m":"s","x":1500,"y":7,"e":5},
{"s":"or","m":"s","x":1006,"y":-19,"e":5},{"s":"or","m":"s","x":1012,"y":-23,"e":5},{"s":"or","m":"s","x":1018,"y":-13,"e":5},{"s":"or","m":"s","x":1028,"y":-21,"e":5},{"s":"or","m":"s","x":1040,"y":-15,"e":5},{"s":"or","m":"s","x":1048,"y":-18,"e":5},{"s":"or","m":"s","x":1060,"y":-9,"e":5},{"s":"or","m":"s","x":1068,"y":-17,"e":5},{"s":"or","m":"s","x":1074,"y":-22,"e":5},{"s":"or","m":"s","x":1086,"y":-15,"e":5},{"s":"or","m":"s","x":1095,"y":-11,"e":5},{"s":"or","m":"s","x":1106,"y":-16,"e":5},{"s":"or","m":"s","x":1113,"y":-20,"e":5},{"s":"or","m":"s","x":1117,"y":-14,"e":5},{"s":"or","m":"s","x":1126,"y":-17,"e":5},{"s":"or","m":"s","x":1132,"y":-24,"e":5},{"s":"or","m":"s","x":1138,"y":-13,"e":5},{"s":"or","m":"s","x":1142,"y":-19,"e":5},{"s":"or","m":"s","x":1150,"y":-21,"e":5},{"s":"or","m":"s","x":1159,"y":-15,"e":5},{"s":"or","m":"s","x":1167,"y":-12,"e":5},{"s":"or","m":"s","x":1172,"y":-20,"e":5},{"s":"or","m":"s","x":1181,"y":-13,"e":5},{"s":"or","m":"s","x":1189,"y":-23,"e":5},{"s":"or","m":"s","x":1193,"y":-18,"e":5},{"s":"or","m":"s","x":1207,"y":-17,"e":5},{"s":"or","m":"s","x":1213,"y":-22,"e":5},{"s":"or","m":"s","x":1221,"y":-16,"e":5},{"s":"or","m":"s","x":1228,"y":-18,"e":5},{"s":"or","m":"s","x":1236,"y":-13,"e":5},{"s":"or","m":"s","x":1241,"y":-16,"e":5},{"s":"or","m":"s","x":1248,"y":-8,"e":5},{"s":"or","m":"s","x":1258,"y":-13,"e":5},{"s":"or","m":"s","x":1266,"y":-6,"e":5},{"s":"or","m":"s","x":1284,"y":-3,"e":5},{"s":"or","m":"s","x":1300,"y":-8,"e":5},{"s":"or","m":"s","x":1313,"y":-1,"e":5},{"s":"or","m":"s","x":1325,"y":3,"e":5},{"s":"or","m":"s","x":1339,"y":1,"e":5},
{"s":"lgy","m":"t","x":1244,"y":-12,"e":5},{"s":"lgy","m":"t","x":1248,"y":-17,"e":5},{"s":"lgy","m":"t","x":1252,"y":-20,"e":5},{"s":"lgy","m":"t","x":1254,"y":-21.2,"e":5},{"s":"lgy","m":"t","x":1256,"y":-6.9,"e":5},{"s":"lgy","m":"t","x":1259,"y":-14.8,"e":5},{"s":"lgy","m":"t","x":1263,"y":-18,"e":5},{"s":"lgy","m":"t","x":1266,"y":-10,"e":5},{"s":"lgy","m":"t","x":1268,"y":-15,"e":5},{"s":"lgy","m":"t","x":1272,"y":-6.2,"e":5},{"s":"lgy","m":"t","x":1276,"y":-1,"e":5},{"s":"lgy","m":"t","x":1277,"y":-19.4,"e":5},{"s":"lgy","m":"t","x":1280,"y":-12,"e":5},{"s":"lgy","m":"t","x":1285,"y":-14.4,"e":5},{"s":"lgy","m":"t","x":1288,"y":-9,"e":5},{"s":"lgy","m":"t","x":1292,"y":-3,"e":5},{"s":"lgy","m":"t","x":1295,"y":-6.9,"e":5},{"s":"lgy","m":"t","x":1298,"y":-11,"e":5},{"s":"lgy","m":"t","x":1303,"y":2.9,"e":5},{"s":"lgy","m":"t","x":1304,"y":-8,"e":5},{"s":"lgy","m":"t","x":1306,"y":1.1,"e":5},{"s":"lgy","m":"t","x":1308,"y":9.5,"e":5},{"s":"lgy","m":"t","x":1312,"y":4,"e":5},{"s":"lgy","m":"t","x":1315,"y":8.4,"e":5},{"s":"lgy","m":"t","x":1317,"y":12.3,"e":5},{"s":"lgy","m":"t","x":1320,"y":-2,"e":5},{"s":"lgy","m":"t","x":1324,"y":-3,"e":5},{"s":"lgy","m":"t","x":1324,"y":-13.7,"e":5},{"s":"lgy","m":"t","x":1326,"y":14.8,"e":5},{"s":"lgy","m":"t","x":1328,"y":12,"e":5},{"s":"lgy","m":"t","x":1330,"y":-11.2,"e":5},{"s":"lgy","m":"t","x":1333,"y":-5.3,"e":5},{"s":"lgy","m":"t","x":1335,"y":-7.6,"e":5},{"s":"lgy","m":"t","x":1338,"y":5,"e":5},{"s":"lgy","m":"t","x":1340,"y":1,"e":5},{"s":"lgy","m":"t","x":1344,"y":-14.4,"e":5},{"s":"lgy","m":"t","x":1346,"y":-7.6,"e":5},{"s":"lgy","m":"t","x":1348,"y":2.5,"e":5},{"s":"lgy","m":"t","x":1352,"y":-3,"e":5},{"s":"lgy","m":"t","x":1355,"y":-11.7,"e":5},{"s":"lgy","m":"t","x":1357,"y":9.3,"e":5},{"s":"lgy","m":"t","x":1360,"y":5,"e":5},{"s":"lgy","m":"t","x":1364,"y":-14.8,"e":5},{"s":"lgy","m":"t","x":1366,"y":-4,"e":5},{"s":"lgy","m":"t","x":1369,"y":2,"e":5},{"s":"lgy","m":"t","x":1372,"y":-8,"e":5},{"s":"lgy","m":"t","x":1375,"y":-4.8,"e":5},{"s":"lgy","m":"t","x":1377,"y":9.1,"e":5},{"s":"lgy","m":"t","x":1380,"y":-2,"e":5},{"s":"lgy","m":"t","x":1384,"y":-12,"e":5},{"s":"lgy","m":"t","x":1387,"y":2,"e":5},{"s":"lgy","m":"t","x":1389,"y":-8.5,"e":5},{"s":"lgy","m":"t","x":1392,"y":-5,"e":5},{"s":"lgy","m":"t","x":1397,"y":-2.6,"e":5},{"s":"lgy","m":"t","x":1397,"y":-21.7,"e":5},{"s":"lgy","m":"t","x":1400,"y":-21.7,"e":5},{"s":"lgy","m":"t","x":1404,"y":4.3,"e":5},{"s":"lgy","m":"t","x":1404,"y":-4,"e":5},{"s":"lgy","m":"t","x":1408,"y":-11,"e":5},{"s":"lgy","m":"t","x":1411,"y":-16.7,"e":5},{"s":"lgy","m":"t","x":1415,"y":-14.4,"e":5},{"s":"lgy","m":"t","x":1418,"y":-9.4,"e":5},{"s":"lgy","m":"t","x":1420,"y":6,"e":5},{"s":"lgy","m":"t","x":1424,"y":-16.7,"e":5},{"s":"lgy","m":"t","x":1428,"y":10,"e":5},{"s":"lgy","m":"t","x":1432,"y":4,"e":5},{"s":"lgy","m":"t","x":1438,"y":15.9,"e":5},{"s":"lgy","m":"t","x":1442,"y":12,"e":5},{"s":"lgy","m":"t","x":1445,"y":-6.4,"e":5},{"s":"lgy","m":"t","x":1445,"y":-12.6,"e":5},{"s":"lgy","m":"t","x":1448,"y":9,"e":5},{"s":"lgy","m":"t","x":1452,"y":14,"e":5},{"s":"lgy","m":"t","x":1456,"y":18.4,"e":5},{"s":"lgy","m":"t","x":1456,"y":-13,"e":5},{"s":"lgy","m":"t","x":1460,"y":5,"e":5},{"s":"lgy","m":"t","x":1462,"y":-1.6,"e":5},{"s":"lgy","m":"t","x":1466,"y":11,"e":5},{"s":"lgy","m":"t","x":1469,"y":17.9,"e":5},{"s":"lgy","m":"t","x":1474,"y":21.1,"e":5},{"s":"lgy","m":"t","x":1478,"y":-3.7,"e":5},{"s":"lgy","m":"t","x":1481,"y":-13,"e":5},{"s":"lgy","m":"t","x":1484,"y":9,"e":5},{"s":"lgy","m":"t","x":1488,"y":15,"e":5},{"s":"lgy","m":"t","x":1492,"y":12,"e":5},{"s":"lgy","m":"t","x":1495,"y":4,"e":5},{"s":"lgy","m":"t","x":1498,"y":-2.1,"e":5},{"s":"lgy","m":"t","x":1502,"y":16,"e":5},{"s":"lgy","m":"t","x":1507,"y":23.4,"e":5},{"s":"lgy","m":"t","x":1512,"y":12,"e":5},{"s":"lgy","m":"t","x":1518,"y":18.4,"e":5},{"s":"lgy","m":"t","x":1522,"y":10,"e":5},{"s":"lgy","m":"t","x":1526,"y":14,"e":5},{"s":"lgy","m":"t","x":1530,"y":17,"e":5},{"s":"lgy","m":"t","x":1534,"y":7,"e":5},{"s":"lgy","m":"t","x":1540,"y":15,"e":5},{"s":"lgy","m":"t","x":1544,"y":11,"e":5},{"s":"lgy","m":"t","x":1548,"y":20.9,"e":5},{"s":"lgy","m":"t","x":1549,"y":19.3,"e":5},{"s":"lgy","m":"t","x":1552,"y":13,"e":5},{"s":"lgy","m":"t","x":1556,"y":9,"e":5},{"s":"lgy","m":"t","x":1560,"y":4,"e":5},{"s":"lgy","m":"t","x":1565,"y":11,"e":5},{"s":"lgy","m":"t","x":1570,"y":8,"e":5},{"s":"lgy","m":"t","x":1574,"y":5,"e":5},{"s":"lgy","m":"t","x":1577,"y":11.8,"e":5},{"s":"lgy","m":"t","x":1580,"y":0,"e":5},{"s":"lgy","m":"t","x":1584,"y":-4,"e":5},{"s":"lgy","m":"t","x":1586,"y":-9.4,"e":5},{"s":"lgy","m":"t","x":1590,"y":3,"e":5},{"s":"lgy","m":"t","x":1594,"y":-6,"e":5},{"s":"lgy","m":"t","x":1597,"y":7.5,"e":5},{"s":"lgy","m":"t","x":1600,"y":-3,"e":5},{"s":"lgy","m":"t","x":1603,"y":-8,"e":5},{"s":"lgy","m":"t","x":1606,"y":-16.9,"e":5},{"s":"lgy","m":"t","x":1610,"y":-12,"e":5},{"s":"lgy","m":"t","x":1614,"y":-6,"e":5},{"s":"lgy","m":"t","x":1618,"y":-2,"e":5},{"s":"lgy","m":"t","x":1622,"y":-7,"e":5},{"s":"lgy","m":"t","x":1626,"y":-12,"e":5},{"s":"lgy","m":"t","x":1630,"y":-4,"e":5},{"s":"lgy","m":"t","x":1633,"y":-12.1,"e":5},{"s":"lgy","m":"t","x":1635,"y":6.6,"e":5},{"s":"lgy","m":"t","x":1638,"y":-8,"e":5},{"s":"lgy","m":"t","x":1640,"y":-1,"e":5},{"s":"lgy","m":"t","x":1642,"y":16.1,"e":5},{"s":"lgy","m":"t","x":1643,"y":18.6,"e":5},{"s":"lgy","m":"t","x":1643,"y":21.9,"e":5},{"s":"lgy","m":"t","x":1644,"y":24.8,"e":5},{"s":"lgy","m":"t","x":1646,"y":30.9,"e":5},
{"s":"lgy","m":"t","x":1290,"y":-15,"e":5},{"s":"lgy","m":"t","x":1300,"y":-12,"e":5},{"s":"lgy","m":"t","x":1310,"y":-6,"e":5},{"s":"lgy","m":"t","x":1318,"y":-9,"e":5},{"s":"lgy","m":"t","x":1322,"y":6,"e":5},{"s":"lgy","m":"t","x":1332,"y":10,"e":5},{"s":"lgy","m":"t","x":1343,"y":-10,"e":5},{"s":"lgy","m":"t","x":1350,"y":-16,"e":5},{"s":"lgy","m":"t","x":1358,"y":-6,"e":5},{"s":"lgy","m":"t","x":1362,"y":0,"e":5},{"s":"lgy","m":"t","x":1370,"y":4,"e":5},{"s":"lgy","m":"t","x":1378,"y":-14,"e":5},{"s":"lgy","m":"t","x":1383,"y":-7,"e":5},{"s":"lgy","m":"t","x":1394,"y":-12,"e":5},{"s":"lgy","m":"t","x":1402,"y":-17,"e":5},{"s":"lgy","m":"t","x":1413,"y":-6,"e":5},{"s":"lgy","m":"t","x":1422,"y":-2,"e":5},{"s":"lgy","m":"t","x":1430,"y":8,"e":5},{"s":"lgy","m":"t","x":1435,"y":0,"e":5},{"s":"lgy","m":"t","x":1450,"y":2,"e":5},{"s":"lgy","m":"t","x":1458,"y":12,"e":5},{"s":"lgy","m":"t","x":1464,"y":16,"e":5},{"s":"lgy","m":"t","x":1472,"y":8,"e":5},{"s":"lgy","m":"t","x":1486,"y":18,"e":5},{"s":"lgy","m":"t","x":1494,"y":20,"e":5},{"s":"lgy","m":"t","x":1500,"y":14,"e":5},{"s":"lgy","m":"t","x":1505,"y":9,"e":5},{"s":"lgy","m":"t","x":1515,"y":14,"e":5},{"s":"lgy","m":"t","x":1528,"y":19,"e":5},{"s":"lgy","m":"t","x":1536,"y":12,"e":5},{"s":"lgy","m":"t","x":1542,"y":18,"e":5},{"s":"lgy","m":"t","x":1558,"y":16,"e":5},{"s":"lgy","m":"t","x":1562,"y":12,"e":5},{"s":"lgy","m":"t","x":1568,"y":15,"e":5},{"s":"lgy","m":"t","x":1576,"y":8,"e":5},{"s":"lgy","m":"t","x":1582,"y":5,"e":5},{"s":"lgy","m":"t","x":1588,"y":-2,"e":5},{"s":"lgy","m":"t","x":1596,"y":-11,"e":5},{"s":"lgy","m":"t","x":1608,"y":-4,"e":5},{"s":"lgy","m":"t","x":1616,"y":-10,"e":5},{"s":"lgy","m":"t","x":1624,"y":-14,"e":5},{"s":"lgy","m":"t","x":1628,"y":-9,"e":5},{"s":"lgy","m":"t","x":1636,"y":-6,"e":5},{"s":"lgy","m":"t","x":1639,"y":-14,"e":5},
{"s":"lgy","m":"s","x":1646,"y":13.4,"e":5},{"s":"lgy","m":"s","x":1648,"y":11.1,"e":5},{"s":"lgy","m":"s","x":1650,"y":8,"e":5},{"s":"lgy","m":"s","x":1652,"y":5,"e":5},{"s":"lgy","m":"s","x":1655,"y":2,"e":5},{"s":"lgy","m":"s","x":1660,"y":-0.3,"e":5},{"s":"lgy","m":"s","x":1660,"y":-4.6,"e":5},{"s":"lgy","m":"s","x":1660,"y":-7.8,"e":5},{"s":"lgy","m":"s","x":1664,"y":5,"e":5},{"s":"lgy","m":"s","x":1668,"y":9,"e":5},{"s":"lgy","m":"s","x":1672,"y":14,"e":5},{"s":"lgy","m":"s","x":1675,"y":18.6,"e":5},{"s":"lgy","m":"s","x":1680,"y":15,"e":5},{"s":"lgy","m":"s","x":1684,"y":20,"e":5},{"s":"lgy","m":"s","x":1686,"y":11.1,"e":5},{"s":"lgy","m":"s","x":1689,"y":8.4,"e":5},{"s":"lgy","m":"s","x":1692,"y":14,"e":5},{"s":"lgy","m":"s","x":1695,"y":7.9,"e":5},{"s":"lgy","m":"s","x":1696,"y":23.2,"e":5},{"s":"lgy","m":"s","x":1700,"y":11.6,"e":5},{"s":"lgy","m":"s","x":1704,"y":20.2,"e":5},{"s":"lgy","m":"s","x":1707,"y":33.2,"e":5},{"s":"lgy","m":"s","x":1711,"y":37.5,"e":5},{"s":"lgy","m":"s","x":1712,"y":30,"e":5},{"s":"lgy","m":"s","x":1713,"y":7.2,"e":5},{"s":"lgy","m":"s","x":1714,"y":31.8,"e":5},{"s":"lgy","m":"s","x":1715,"y":24.9,"e":5},{"s":"lgy","m":"s","x":1718,"y":23.2,"e":5},{"s":"lgy","m":"s","x":1721,"y":5,"e":5},{"s":"lgy","m":"s","x":1721,"y":11.1,"e":5},{"s":"lgy","m":"s","x":1725,"y":15,"e":5},{"s":"lgy","m":"s","x":1729,"y":-0.5,"e":5},{"s":"lgy","m":"s","x":1731,"y":19.3,"e":5},{"s":"lgy","m":"s","x":1732,"y":16.6,"e":5},{"s":"lgy","m":"s","x":1736,"y":12.3,"e":5},{"s":"lgy","m":"s","x":1740,"y":-3.2,"e":5},{"s":"lgy","m":"s","x":1743,"y":-5.5,"e":5},{"s":"lgy","m":"s","x":1747,"y":-9.6,"e":5},{"s":"lgy","m":"s","x":1752,"y":-2,"e":5},{"s":"lgy","m":"s","x":1759,"y":-7.3,"e":5},{"s":"lgy","m":"s","x":1761,"y":-1.4,"e":5},{"s":"lgy","m":"s","x":1761,"y":-10.7,"e":5},{"s":"lgy","m":"s","x":1768,"y":3,"e":5},{"s":"lgy","m":"s","x":1776,"y":-10.1,"e":5},{"s":"lgy","m":"s","x":1779,"y":2.7,"e":5},{"s":"lgy","m":"s","x":1786,"y":5.4,"e":5},{"s":"lgy","m":"s","x":1788,"y":12.7,"e":5},{"s":"lgy","m":"s","x":1790,"y":-4.6,"e":5},{"s":"lgy","m":"s","x":1793,"y":-13.9,"e":5},{"s":"lgy","m":"s","x":1793,"y":-16,"e":5},{"s":"lgy","m":"s","x":1797,"y":1.3,"e":5},{"s":"lgy","m":"s","x":1802,"y":4,"e":5},{"s":"lgy","m":"s","x":1808,"y":-8.7,"e":5},{"s":"lgy","m":"s","x":1813,"y":10.4,"e":5},{"s":"lgy","m":"s","x":1817,"y":8.6,"e":5},{"s":"lgy","m":"s","x":1822,"y":10,"e":5},{"s":"lgy","m":"s","x":1827,"y":7.2,"e":5},{"s":"lgy","m":"s","x":1834,"y":-7.1,"e":5},{"s":"lgy","m":"s","x":1843,"y":-8.9,"e":5},{"s":"lgy","m":"s","x":1846,"y":4.1,"e":5},{"s":"lgy","m":"s","x":1850,"y":-2,"e":5},
{"s":"sb","m":"t","x":1378,"y":-24.4,"e":4},{"s":"sb","m":"t","x":1380,"y":-20.8,"e":4},{"s":"sb","m":"t","x":1382,"y":-22,"e":4},{"s":"sb","m":"t","x":1386,"y":-24,"e":4},{"s":"sb","m":"t","x":1386,"y":-18,"e":4},{"s":"sb","m":"t","x":1388,"y":-24,"e":4},{"s":"sb","m":"t","x":1389,"y":-16.2,"e":4},{"s":"sb","m":"t","x":1392,"y":-20,"e":4},{"s":"sb","m":"t","x":1393,"y":-17.1,"e":4},{"s":"sb","m":"t","x":1397,"y":-15,"e":4},{"s":"sb","m":"t","x":1397,"y":-9.8,"e":4},{"s":"sb","m":"t","x":1400,"y":-13,"e":4},{"s":"sb","m":"t","x":1400,"y":-11.7,"e":4},{"s":"sb","m":"t","x":1404,"y":-8.5,"e":4},{"s":"sb","m":"t","x":1404,"y":-13.9,"e":4},{"s":"sb","m":"t","x":1405,"y":-5.7,"e":4},{"s":"sb","m":"t","x":1411,"y":-10.3,"e":4},{"s":"sb","m":"t","x":1411,"y":-3,"e":4},{"s":"sb","m":"t","x":1416,"y":0.6,"e":4},{"s":"sb","m":"t","x":1418,"y":-6.2,"e":4},{"s":"sb","m":"t","x":1424,"y":-4.4,"e":4},{"s":"sb","m":"t","x":1427,"y":-0.7,"e":4},{"s":"sb","m":"t","x":1429,"y":2.9,"e":4},{"s":"sb","m":"t","x":1436,"y":-1.2,"e":4},{"s":"sb","m":"t","x":1440,"y":7.7,"e":4},{"s":"sb","m":"t","x":1440,"y":10.7,"e":4},{"s":"sb","m":"t","x":1445,"y":4,"e":4},{"s":"sb","m":"t","x":1451,"y":12.5,"e":4},{"s":"sb","m":"t","x":1456,"y":6.1,"e":4},{"s":"sb","m":"t","x":1460,"y":10.7,"e":4},{"s":"sb","m":"t","x":1463,"y":8,"e":4},{"s":"sb","m":"t","x":1468,"y":4,"e":4},{"s":"sb","m":"t","x":1471,"y":13.8,"e":4},{"s":"sb","m":"t","x":1476,"y":6.6,"e":4},{"s":"sb","m":"t","x":1480,"y":12.5,"e":4},{"s":"sb","m":"t","x":1485,"y":9,"e":4},{"s":"sb","m":"t","x":1490,"y":13.8,"e":4},{"s":"sb","m":"t","x":1490,"y":10.7,"e":4},{"s":"sb","m":"t","x":1495,"y":6,"e":4},{"s":"sb","m":"t","x":1498,"y":8.4,"e":4},{"s":"sb","m":"t","x":1502,"y":11,"e":4},{"s":"sb","m":"t","x":1507,"y":5.6,"e":4},{"s":"sb","m":"t","x":1512,"y":9,"e":4},{"s":"sb","m":"t","x":1519,"y":3.8,"e":4},{"s":"sb","m":"t","x":1524,"y":7,"e":4},{"s":"sb","m":"t","x":1530,"y":5.2,"e":4},
{"s":"sb","m":"c","x":1561,"y":-0.3,"e":4},{"s":"sb","m":"c","x":1570,"y":-3,"e":4},{"s":"sb","m":"c","x":1600,"y":-6,"e":4},{"s":"sb","m":"c","x":1613,"y":-10.3,"e":4},{"s":"sb","m":"c","x":1619,"y":-11.7,"e":4},
{"s":"pu","m":"t","x":1380,"y":-12,"e":3},{"s":"pu","m":"t","x":1395,"y":-6,"e":3},{"s":"pu","m":"t","x":1410,"y":-2,"e":3},
{"s":"lg","m":"t","x":1480,"y":5,"e":4},{"s":"lg","m":"t","x":1510,"y":3,"e":4},{"s":"lg","m":"t","x":1536,"y":-1.2,"e":4},{"s":"lg","m":"t","x":1600,"y":-12,"e":4},{"s":"lg","m":"t","x":1630,"y":-14,"e":4},{"s":"lg","m":"t","x":1696,"y":25.7,"e":4},{"s":"lg","m":"t","x":1682,"y":3.8,"e":4},{"s":"lg","m":"t","x":1676,"y":2.9,"e":4},{"s":"lg","m":"t","x":1693,"y":2.7,"e":4},{"s":"lg","m":"t","x":1669,"y":-1,"e":4},{"s":"lg","m":"t","x":1765,"y":7.7,"e":4},{"s":"lg","m":"t","x":1859,"y":0.2,"e":4},{"s":"lg","m":"t","x":1866,"y":-8.5,"e":4},{"s":"lg","m":"t","x":1867,"y":1.8,"e":4},{"s":"lg","m":"t","x":1871,"y":3.4,"e":4},{"s":"lg","m":"t","x":1891,"y":-0.3,"e":4},{"s":"lg","m":"t","x":1898,"y":-9.4,"e":4},{"s":"lg","m":"t","x":1913,"y":-13.9,"e":4},{"s":"lg","m":"t","x":1935,"y":-14.8,"e":4},
{"s":"cy","m":"c","x":1510,"y":5.6,"e":3},{"s":"cy","m":"c","x":1512,"y":8.8,"e":3},{"s":"cy","m":"c","x":1519,"y":10,"e":3},{"s":"cy","m":"c","x":1519,"y":5,"e":3},{"s":"cy","m":"c","x":1521,"y":7.5,"e":3},{"s":"cy","m":"c","x":1525,"y":8.8,"e":3},{"s":"cy","m":"c","x":1532,"y":12.9,"e":3},{"s":"cy","m":"c","x":1537,"y":14.1,"e":3},{"s":"cy","m":"c","x":1544,"y":7.5,"e":3},{"s":"cy","m":"c","x":1548,"y":11.3,"e":3},{"s":"cy","m":"c","x":1549,"y":10,"e":3},{"s":"cy","m":"c","x":1552,"y":12.5,"e":3},{"s":"cy","m":"c","x":1559,"y":7,"e":3},{"s":"cy","m":"c","x":1559,"y":1.5,"e":3},{"s":"cy","m":"c","x":1563,"y":3,"e":3},{"s":"cy","m":"c","x":1566,"y":5,"e":3},{"s":"cy","m":"c","x":1570,"y":7.2,"e":3},{"s":"cy","m":"c","x":1574,"y":4.7,"e":3},{"s":"cy","m":"c","x":1577,"y":1,"e":3},{"s":"cy","m":"c","x":1579,"y":3.8,"e":3},{"s":"cy","m":"c","x":1581,"y":-3,"e":3},{"s":"cy","m":"c","x":1583,"y":0.6,"e":3},{"s":"cy","m":"c","x":1586,"y":-4,"e":3},{"s":"cy","m":"c","x":1588,"y":3.6,"e":3},{"s":"cy","m":"c","x":1590,"y":-1.2,"e":3},{"s":"cy","m":"c","x":1592,"y":1.1,"e":3},{"s":"cy","m":"c","x":1594,"y":-7,"e":3},{"s":"cy","m":"c","x":1597,"y":-5.3,"e":3},{"s":"cy","m":"c","x":1599,"y":-0.5,"e":3},{"s":"cy","m":"c","x":1602,"y":-2.1,"e":3},{"s":"cy","m":"c","x":1604,"y":-7.1,"e":3},{"s":"cy","m":"c","x":1606,"y":-5,"e":3},{"s":"cy","m":"c","x":1610,"y":-3.9,"e":3},{"s":"cy","m":"c","x":1610,"y":-8,"e":3},{"s":"cy","m":"c","x":1614,"y":-9,"e":3},{"s":"cy","m":"c","x":1617,"y":-6.2,"e":3},{"s":"cy","m":"c","x":1619,"y":-10.4,"e":3},{"s":"cy","m":"c","x":1621,"y":-3.9,"e":3},{"s":"cy","m":"c","x":1622,"y":1.5,"e":3},{"s":"cy","m":"c","x":1624,"y":-2,"e":3},{"s":"cy","m":"c","x":1626,"y":-8,"e":3},{"s":"cy","m":"c","x":1628,"y":-5.3,"e":3},{"s":"cy","m":"c","x":1631,"y":-2.1,"e":3},{"s":"cy","m":"c","x":1633,"y":-7,"e":3},{"s":"cy","m":"c","x":1635,"y":-6,"e":3},{"s":"cy","m":"c","x":1635,"y":-1.9,"e":3},{"s":"cy","m":"c","x":1638,"y":0.6,"e":3},{"s":"cy","m":"c","x":1640,"y":-4.3,"e":3},{"s":"cy","m":"c","x":1642,"y":-1,"e":3},{"s":"cy","m":"c","x":1644,"y":2.9,"e":3},{"s":"cy","m":"c","x":1645,"y":0,"e":3},{"s":"cy","m":"c","x":1646,"y":5.5,"e":3},{"s":"cy","m":"c","x":1648,"y":3.8,"e":3},
{"s":"cy","m":"c","x":1662,"y":2.9,"e":3},{"s":"cy","m":"c","x":1666,"y":6.8,"e":3},{"s":"cy","m":"c","x":1668,"y":11.3,"e":3},{"s":"cy","m":"c","x":1671,"y":9.5,"e":3},{"s":"cy","m":"c","x":1673,"y":13.8,"e":3},{"s":"cy","m":"c","x":1676,"y":8.4,"e":3},{"s":"cy","m":"c","x":1678,"y":6.8,"e":3},{"s":"cy","m":"c","x":1682,"y":10,"e":3},{"s":"cy","m":"c","x":1684,"y":12,"e":3},{"s":"cy","m":"c","x":1686,"y":15.7,"e":3},{"s":"cy","m":"c","x":1690,"y":11,"e":3},{"s":"cy","m":"c","x":1693,"y":13,"e":3},{"s":"cy","m":"c","x":1697,"y":15,"e":3},{"s":"cy","m":"c","x":1700,"y":16.4,"e":3},{"s":"cy","m":"c","x":1704,"y":17.6,"e":3},{"s":"cy","m":"c","x":1705,"y":10.4,"e":3},{"s":"cy","m":"c","x":1707,"y":13.2,"e":3},{"s":"cy","m":"c","x":1711,"y":12,"e":3},{"s":"cy","m":"c","x":1715,"y":15.7,"e":3},{"s":"cy","m":"c","x":1718,"y":14.5,"e":3},{"s":"cy","m":"c","x":1720,"y":13,"e":3},{"s":"cy","m":"c","x":1725,"y":17.1,"e":3},{"s":"cy","m":"c","x":1727,"y":9.3,"e":3},{"s":"cy","m":"c","x":1729,"y":11.8,"e":3},{"s":"cy","m":"c","x":1731,"y":3.8,"e":3},{"s":"cy","m":"c","x":1732,"y":7.2,"e":3},{"s":"cy","m":"c","x":1740,"y":5.6,"e":3},{"s":"cy","m":"c","x":1740,"y":-0.7,"e":3},{"s":"cy","m":"c","x":1743,"y":3.8,"e":3},
{"s":"cy","m":"c","x":1750,"y":2,"e":3},{"s":"cy","m":"c","x":1752,"y":6,"e":3},{"s":"cy","m":"c","x":1757,"y":4.3,"e":3},{"s":"cy","m":"c","x":1761,"y":2.7,"e":3},{"s":"cy","m":"c","x":1764,"y":1.1,"e":3},{"s":"cy","m":"c","x":1775,"y":1.1,"e":3},{"s":"cy","m":"c","x":1777,"y":-1.4,"e":3},{"s":"cy","m":"c","x":1779,"y":-2.8,"e":3},{"s":"cy","m":"c","x":1781,"y":-6.4,"e":3},{"s":"cy","m":"c","x":1784,"y":-11.6,"e":3},{"s":"cy","m":"c","x":1788,"y":-8,"e":3},{"s":"cy","m":"c","x":1790,"y":-12.3,"e":3},{"s":"cy","m":"c","x":1792,"y":-8.9,"e":3},{"s":"cy","m":"c","x":1795,"y":-11,"e":3},{"s":"cy","m":"c","x":1800,"y":-1.4,"e":3},{"s":"cy","m":"c","x":1802,"y":-2.8,"e":3},{"s":"cy","m":"c","x":1805,"y":-5.3,"e":3},{"s":"cy","m":"c","x":1807,"y":-6.9,"e":3},{"s":"cy","m":"c","x":1808,"y":0.9,"e":3},{"s":"cy","m":"c","x":1813,"y":-0.7,"e":3},{"s":"cy","m":"c","x":1817,"y":-3,"e":3},{"s":"cy","m":"c","x":1817,"y":5.2,"e":3},{"s":"cy","m":"c","x":1827,"y":5.2,"e":3},{"s":"cy","m":"c","x":1829,"y":3.8,"e":3},{"s":"cy","m":"c","x":1831,"y":2.2,"e":3},{"s":"cy","m":"c","x":1835,"y":0.4,"e":3},{"s":"cy","m":"c","x":1837,"y":-4.8,"e":3},{"s":"cy","m":"c","x":1840,"y":-6,"e":3},{"s":"cy","m":"c","x":1848,"y":0.2,"e":3},{"s":"cy","m":"c","x":1854,"y":-7.1,"e":3},{"s":"cy","m":"c","x":1856,"y":-1.4,"e":3},{"s":"cy","m":"c","x":1863,"y":-7.3,"e":3},{"s":"cy","m":"c","x":1866,"y":-3.5,"e":3},{"s":"cy","m":"c","x":1876,"y":-4.8,"e":3},{"s":"cy","m":"c","x":1876,"y":-8.7,"e":3},{"s":"cy","m":"c","x":1883,"y":-1.4,"e":3},{"s":"cy","m":"c","x":1888,"y":-8.7,"e":3},{"s":"cy","m":"c","x":1891,"y":-5.7,"e":3},{"s":"cy","m":"c","x":1897,"y":-3.5,"e":3},{"s":"cy","m":"c","x":1901,"y":-1.2,"e":3},{"s":"cy","m":"c","x":1910,"y":-8,"e":3},{"s":"cy","m":"c","x":1914,"y":-6,"e":3},{"s":"cy","m":"c","x":1916,"y":-9.4,"e":3},{"s":"cy","m":"c","x":1919,"y":-11.2,"e":3},{"s":"cy","m":"c","x":1923,"y":-12.6,"e":3},{"s":"cy","m":"c","x":1926,"y":-15.1,"e":3},{"s":"cy","m":"c","x":1930,"y":-18.5,"e":3},{"s":"cy","m":"c","x":1934,"y":-17.3,"e":3},{"s":"cy","m":"c","x":1937,"y":-20.3,"e":3},{"s":"cy","m":"c","x":1941,"y":-21.7,"e":3},{"s":"cy","m":"c","x":1944,"y":-23,"e":3},{"s":"cy","m":"c","x":1945,"y":-24.4,"e":3},{"s":"cy","m":"c","x":1947,"y":-26,"e":3}
],
"bars":[{"s":"nv","x":770,"x2":777,"y":-30},{"s":"ye","x":771,"x2":780,"y":-32},{"s":"dr","x":771,"x2":781,"y":-34},{"s":"pe","x":771,"x2":780,"y":-36},{"s":"br","x":766,"x2":797,"y":-38},{"s":"bl","x":761,"x2":788,"y":-40},{"s":"gr","x":761,"x2":801,"y":-42},{"s":"pk","x":722,"x2":815,"y":-44},{"s":"rd","x":751,"x2":821,"y":-46},{"s":"lg","x":642,"x2":896,"y":-48},{"s":"tl","x":651,"x2":903,"y":-50},{"s":"ol","x":1004,"x2":1020,"y":-38},{"s":"bl","x":1011,"x2":1113,"y":-40},{"s":"bk","x":951,"x2":1932,"y":-42},{"s":"or","x":998,"x2":1509,"y":-44},{"s":"cy","x":1509,"x2":1948,"y":-44},{"s":"rd","x":988,"x2":1022,"y":-46},{"s":"mg","x":1050,"x2":1065,"y":-46},{"s":"lgy","x":1250,"x2":1850,"y":-46},{"s":"od","x":1005,"x2":1008,"y":-48},{"s":"yo","x":1037,"x2":1081,"y":-48},{"s":"lg","x":1411,"x2":1898,"y":-48},{"s":"tl","x":967,"x2":1378,"y":-50},{"s":"tl","x":1432,"x2":1577,"y":-50},{"s":"pu","x":1369,"x2":1420,"y":-34},{"s":"sb","x":1376,"x2":1658,"y":-36}]
},
"vconcat":[
{"width":1207,"height":227,
"resolve":{"axis":{"x":"independent","y":"independent"}},
"layer":[
{"data":{"name":"ic"},"mark":{"type":"line","color":"#b5def8","strokeWidth":6,"clip":true},
"encoding":{"x":{"field":"x","type":"quantitative","scale":{"domain":[640.7,1948.4],"nice":false,"zero":false},"axis":{"orient":"top","values":[800,1000,1200,1400,1600,1800],"labels":false,"tickSize":13,"title":null}},
"y":{"field":"y","type":"quantitative","scale":{"domain":[-30.06,24.31],"nice":false,"zero":false},"axis":{"orient":"left","values":[-20,0,20],"title":"Δ¹⁴C [‰]","titleFontSize":26,"titlePadding":13,"labelFontSize":25,"labelPadding":10,"tickSize":12,"minExtent":60,"maxExtent":60,"labelExpr":"datum.value < 0 ? '-' + abs(datum.value) : '' + datum.value"}}}},
{"data":{"name":"a"},"mark":{"type":"errorbar","color":"#9a9a9a","rule":{"strokeWidth":1.5}},
"encoding":{"x":{"field":"x","type":"quantitative","axis":null},"y":{"field":"y","type":"quantitative","axis":null},"yError":{"field":"e"}}},
{"data":{"name":"a"},"mark":{"type":"point","filled":true,"stroke":"#111","strokeWidth":1.2,"size":135,"opacity":1},
"encoding":{"x":{"field":"x","type":"quantitative","axis":{"orient":"bottom","values":[800,1000,1200,1400,1600,1800],"labels":false,"tickSize":13,"title":null}},
"y":{"field":"y","type":"quantitative","axis":{"orient":"right","values":[-20,0,20],"labels":false,"tickSize":4,"title":null}},
"fill":{"field":"s","type":"nominal","legend":null,"scale":{"domain":["ao","ab","ap","at","ay","ar","tl","lg","pk","rd","gr","bl","br","pe","dr","ye","nv","bk","ol","or","cy","mg","lgy","od","yo","pu","sb"],"range":["#f5a20f","#0000ff","#9232c8","#3f8670","#ffff00","#ff0000","#3f8670","#8fbf8f","#ff70c8","#ff0000","#00e600","#5050ff","#b03434","#ffe4c4","#cc0000","#ffff00","#333399","#000000","#a0a000","#ff8a2a","#00ffff","#cc44aa","#c8c8c8","#808000","#cccc00","#9933dd","#3399cc"]}},
"shape":{"field":"m","type":"nominal","legend":null,"scale":{"domain":["c","s","t","l"],"range":["circle","square","triangle-up","triangle-left"]}}}},
{"data":{"values":[{}]},"mark":{"type":"rect","fill":"#ffff99","opacity":0.5,"clip":false},
"encoding":{"x":{"datum":1653.5,"type":"quantitative","axis":null},"x2":{"datum":1750.5},"y":{"datum":24.5,"type":"quantitative","axis":null},"y2":{"datum":-30.06}}},
{"data":{"values":[{}]},"mark":{"type":"rule","color":"#88a3a6","strokeWidth":5,"strokeCap":"square","clip":false},
"encoding":{"x":{"datum":1653.5,"type":"quantitative","axis":null},"y":{"datum":24.5,"type":"quantitative","axis":null},"y2":{"datum":-30.06}}},
{"data":{"values":[{}]},"mark":{"type":"rule","color":"#88a3a6","strokeWidth":5,"strokeCap":"square","clip":false},
"encoding":{"x":{"datum":1750.5,"type":"quantitative","axis":null},"y":{"datum":24.5,"type":"quantitative","axis":null},"y2":{"datum":-30.06}}},
{"data":{"values":[{}]},"mark":{"type":"rule","color":"#88a3a6","strokeWidth":5,"strokeCap":"square","clip":false},
"encoding":{"x":{"datum":1653.5,"type":"quantitative","axis":null},"x2":{"datum":1750.5},"y":{"datum":24.5,"type":"quantitative","axis":null}}},
{"data":{"values":[{}]},"mark":{"type":"text","text":"A","fontSize":33,"align":"left","baseline":"alphabetic","color":"#111","font":"Liberation Sans"},
"encoding":{"x":{"datum":651.5,"type":"quantitative","axis":null},"y":{"datum":15.86,"type":"quantitative","axis":null}}}
]},
{"width":1207,"height":680,
"resolve":{"axis":{"x":"independent","y":"independent"}},
"layer":[
{"data":{"name":"ic"},"mark":{"type":"line","color":"#b5def8","strokeWidth":10,"clip":true},
"encoding":{"x":{"field":"x","type":"quantitative","scale":{"domain":[640.7,1948.4],"nice":false,"zero":false},"axis":{"orient":"top","values":[800,1000,1200,1400,1600,1800],"labels":false,"tickSize":13,"title":null}},
"y":{"field":"y","type":"quantitative","scale":{"domain":[-52.87,40],"nice":false,"zero":false},"axis":{"orient":"left","values":[-50,-40,-30,-20,-10,0,10,20,30,40],"title":"Δ¹⁴C [‰]","titleFontSize":26,"titlePadding":13,"labelFontSize":25,"labelPadding":10,"tickSize":12,"minExtent":60,"maxExtent":60,"labelExpr":"datum.value < 0 ? '-' + abs(datum.value) : '' + datum.value"}}}},
{"data":{"name":"b"},"mark":{"type":"errorbar","color":"#9a9a9a","rule":{"strokeWidth":1.6}},
"encoding":{"x":{"field":"x","type":"quantitative","axis":null},"y":{"field":"y","type":"quantitative","axis":null},"yError":{"field":"e"}}},
{"data":{"name":"b"},"transform":[{"filter":"datum.s==='bk'"}],"mark":{"type":"errorbar","color":"#000000","rule":{"strokeWidth":3}},
"encoding":{"x":{"field":"x","type":"quantitative","axis":null},"y":{"field":"y","type":"quantitative","axis":null},"yError":{"field":"e"}}},
{"data":{"name":"b"},"mark":{"type":"point","filled":true,"stroke":"#111","strokeWidth":1.2,"opacity":1},
"encoding":{"x":{"field":"x","type":"quantitative","axis":{"orient":"bottom","values":[800,1000,1200,1400,1600,1800],"format":"d","labels":true,"labelFontSize":25,"labelPadding":15,"tickSize":11,"title":"Year CE","titleFontSize":28,"titlePadding":8}},
"y":{"field":"y","type":"quantitative","axis":{"orient":"right","values":[-50,-40,-30,-20,-10,0,10,20,30,40],"labels":false,"tickSize":4,"title":null}},
"size":{"condition":[{"test":"datum.s==='gr'||datum.s==='dr'||datum.s==='ye'||datum.s==='nv'||datum.s==='pu'","value":50},{"test":"datum.s==='rd'","value":85}],"value":120},
"fill":{"field":"s","type":"nominal","legend":null,"scale":{"domain":["ao","ab","ap","at","ay","ar","tl","lg","pk","rd","gr","bl","br","pe","dr","ye","nv","bk","ol","or","cy","mg","lgy","od","yo","pu","sb"],"range":["#f5a20f","#0000ff","#9232c8","#3f8670","#ffff00","#ff0000","#3f8670","#8fbf8f","#ff70c8","#ff0000","#00e600","#5050ff","#b03434","#ffe4c4","#cc0000","#ffff00","#333399","#000000","#a0a000","#ff8a2a","#00ffff","#cc44aa","#c8c8c8","#808000","#cccc00","#9933dd","#3399cc"]}},
"shape":{"field":"m","type":"nominal","legend":null,"scale":{"domain":["c","s","t","l"],"range":["circle","square","triangle-up","triangle-left"]}}}},
{"data":{"name":"bars"},"mark":{"type":"rule","strokeWidth":4.5,"strokeCap":"butt"},
"encoding":{"x":{"field":"x","type":"quantitative","axis":null},"x2":{"field":"x2"},"y":{"field":"y","type":"quantitative","axis":null},
"color":{"field":"s","type":"nominal","legend":null,"scale":{"domain":["ao","ab","ap","at","ay","ar","tl","lg","pk","rd","gr","bl","br","pe","dr","ye","nv","bk","ol","or","cy","mg","lgy","od","yo","pu","sb"],"range":["#f5a20f","#0000ff","#9232c8","#3f8670","#ffff00","#ff0000","#3f8670","#8fbf8f","#ff70c8","#ff0000","#00e600","#5050ff","#b03434","#ffe4c4","#cc0000","#ffff00","#333399","#000000","#a0a000","#ff8a2a","#00ffff","#cc44aa","#c8c8c8","#808000","#cccc00","#9933dd","#3399cc"]}}}},
{"data":{"values":[{}]},"mark":{"type":"rect","fill":"#ffff99","opacity":0.5,"clip":false},
"encoding":{"x":{"datum":1653.5,"type":"quantitative","axis":null},"x2":{"datum":1750.5},"y":{"datum":40,"type":"quantitative","axis":null},"y2":{"datum":-51.08}}},
{"data":{"values":[{}]},"mark":{"type":"rule","color":"#88a3a6","strokeWidth":5,"strokeCap":"square","clip":false},
"encoding":{"x":{"datum":1653.5,"type":"quantitative","axis":null},"y":{"datum":40,"type":"quantitative","axis":null},"y2":{"datum":-51.08}}},
{"data":{"values":[{}]},"mark":{"type":"rule","color":"#88a3a6","strokeWidth":5,"strokeCap":"square","clip":false},
"encoding":{"x":{"datum":1750.5,"type":"quantitative","axis":null},"y":{"datum":40,"type":"quantitative","axis":null},"y2":{"datum":-51.08}}},
{"data":{"values":[{}]},"mark":{"type":"rule","color":"#88a3a6","strokeWidth":5,"strokeCap":"square","clip":false},
"encoding":{"x":{"datum":1653.5,"type":"quantitative","axis":null},"x2":{"datum":1750.5},"y":{"datum":-51.08,"type":"quantitative","axis":null}}},
{"data":{"values":[{}]},"mark":{"type":"text","text":"B","fontSize":33,"align":"left","baseline":"alphabetic","color":"#111","font":"Liberation Sans"},
"encoding":{"x":{"datum":651.5,"type":"quantitative","axis":null},"y":{"datum":34.26,"type":"quantitative","axis":null}}}
]}
]
}
